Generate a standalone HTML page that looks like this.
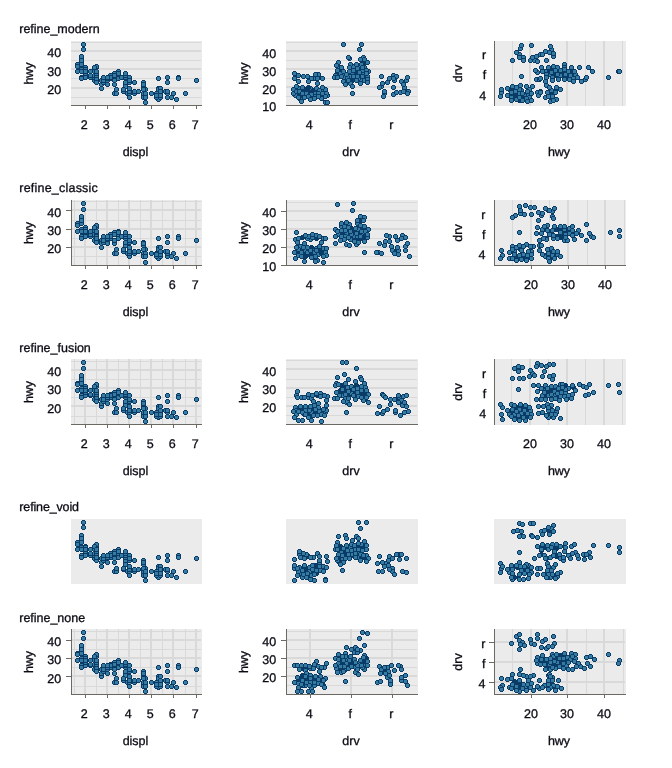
<!DOCTYPE html>
<html lang="en"><head><meta charset="utf-8"><title>refine modes</title>
<style>html,body{margin:0;padding:0;background:#fff}body{width:672px;height:768px;overflow:hidden}svg{display:block}text{stroke:#0b0b14;stroke-width:.3px}</style></head>
<body>
<svg width="672" height="768" viewBox="0 0 672 768" font-family='"Liberation Sans", Arial, sans-serif' font-size="12.5" fill="#0b0b14" shape-rendering="crispEdges" text-rendering="geometricPrecision" class="s">
<defs><g id="p"><path d="M-1-2h3v1h1v3h-1v1h-3v-1h-1v-3h1z" fill="#0a3a66"/><rect x="-1" y="-1" width="3" height="3" fill="#357ba2"/></g><path id="q" d="M-1-2h3v1h1v3h-1v1h-3v-1h-1v-3h1z" fill="#0a3a66"/></defs>
<text x="19.3" y="33" textLength="80.3" lengthAdjust="spacing">refine_modern</text>
<rect x="71" y="41" width="131" height="65" fill="#ebebeb"/>
<rect x="71" y="97" width="130" height="1" fill="#d9d9d9"/>
<rect x="71" y="78" width="130" height="1" fill="#d9d9d9"/>
<rect x="71" y="60" width="130" height="1" fill="#d9d9d9"/>
<rect x="71" y="42" width="130" height="1" fill="#d9d9d9"/>
<rect x="71" y="87" width="130" height="2" fill="#d9d9d9"/>
<rect x="71" y="68" width="130" height="2" fill="#d9d9d9"/>
<rect x="71" y="50" width="130" height="2" fill="#d9d9d9"/>
<g><use href="#p" x="85" y="67"/><use href="#p" x="85" y="69"/><use href="#p" x="110" y="75"/><use href="#p" x="81" y="77"/><use href="#p" x="81" y="78"/><use href="#p" x="103" y="78"/><use href="#p" x="110" y="78"/><use href="#p" x="134" y="82"/><use href="#p" x="158" y="97"/><use href="#p" x="158" y="88"/><use href="#p" x="173" y="93"/><use href="#p" x="167" y="77"/><use href="#p" x="167" y="82"/><use href="#p" x="178" y="77"/><use href="#p" x="178" y="78"/><use href="#p" x="196" y="80"/><use href="#p" x="158" y="89"/><use href="#p" x="158" y="99"/><use href="#p" x="167" y="97"/><use href="#p" x="185" y="93"/><use href="#p" x="118" y="71"/><use href="#p" x="94" y="80"/><use href="#p" x="107" y="80"/><use href="#p" x="114" y="84"/><use href="#p" x="114" y="80"/><use href="#p" x="125" y="84"/><use href="#p" x="125" y="86"/><use href="#p" x="125" y="82"/><use href="#p" x="129" y="82"/><use href="#p" x="123" y="91"/><use href="#p" x="156" y="93"/><use href="#p" x="127" y="93"/><use href="#p" x="145" y="95"/><use href="#p" x="156" y="97"/><use href="#p" x="156" y="95"/><use href="#p" x="167" y="93"/><use href="#p" x="171" y="97"/><use href="#p" x="134" y="93"/><use href="#p" x="143" y="95"/><use href="#p" x="143" y="93"/><use href="#p" x="160" y="97"/><use href="#p" x="125" y="78"/><use href="#p" x="129" y="77"/><use href="#p" x="129" y="80"/><use href="#p" x="143" y="86"/><use href="#p" x="143" y="82"/><use href="#p" x="143" y="84"/><use href="#p" x="160" y="88"/><use href="#p" x="77" y="64"/><use href="#p" x="77" y="71"/><use href="#p" x="77" y="66"/><use href="#p" x="81" y="62"/><use href="#p" x="81" y="58"/><use href="#p" x="94" y="77"/><use href="#p" x="94" y="69"/><use href="#p" x="114" y="73"/><use href="#p" x="85" y="75"/><use href="#p" x="101" y="80"/><use href="#p" x="107" y="84"/><use href="#p" x="123" y="89"/><use href="#p" x="145" y="102"/><use href="#p" x="145" y="89"/><use href="#p" x="176" y="99"/><use href="#p" x="129" y="97"/><use href="#p" x="134" y="91"/><use href="#p" x="138" y="91"/><use href="#p" x="143" y="97"/><use href="#p" x="160" y="93"/><use href="#p" x="160" y="95"/><use href="#p" x="160" y="91"/><use href="#p" x="129" y="93"/><use href="#p" x="129" y="89"/><use href="#p" x="143" y="89"/><use href="#p" x="151" y="93"/><use href="#p" x="94" y="71"/><use href="#p" x="94" y="75"/><use href="#p" x="96" y="67"/><use href="#p" x="96" y="66"/><use href="#p" x="118" y="75"/><use href="#p" x="118" y="77"/><use href="#p" x="107" y="78"/><use href="#p" x="118" y="78"/><use href="#p" x="114" y="93"/><use href="#p" x="165" y="91"/><use href="#p" x="110" y="77"/><use href="#p" x="125" y="77"/><use href="#p" x="125" y="75"/><use href="#p" x="125" y="73"/><use href="#p" x="158" y="78"/><use href="#p" x="96" y="80"/><use href="#p" x="96" y="82"/><use href="#p" x="90" y="77"/><use href="#p" x="96" y="77"/><use href="#p" x="96" y="78"/><use href="#p" x="96" y="75"/><use href="#p" x="145" y="93"/><use href="#p" x="118" y="73"/><use href="#p" x="90" y="75"/><use href="#p" x="90" y="71"/><use href="#p" x="94" y="67"/><use href="#p" x="107" y="77"/><use href="#p" x="114" y="75"/><use href="#p" x="81" y="69"/><use href="#p" x="81" y="64"/><use href="#p" x="81" y="56"/><use href="#p" x="81" y="60"/><use href="#p" x="145" y="97"/><use href="#p" x="167" y="91"/><use href="#p" x="101" y="88"/><use href="#p" x="101" y="84"/><use href="#p" x="116" y="93"/><use href="#p" x="116" y="89"/><use href="#p" x="129" y="91"/><use href="#p" x="129" y="88"/><use href="#p" x="103" y="82"/><use href="#p" x="103" y="80"/><use href="#p" x="83" y="44"/><use href="#p" x="83" y="49"/><use href="#p" x="85" y="77"/><use href="#p" x="96" y="73"/><use href="#p" x="96" y="71"/><use href="#p" x="81" y="71"/><use href="#p" x="85" y="73"/><use href="#p" x="85" y="71"/><use href="#p" x="103" y="77"/><use href="#p" x="121" y="77"/></g>
<rect x="71" y="105" width="131" height="1" fill="#6c6962"/>
<rect x="85" y="106" width="1" height="3" fill="#6c6962"/>
<rect x="107" y="106" width="1" height="3" fill="#6c6962"/>
<rect x="129" y="106" width="1" height="3" fill="#6c6962"/>
<rect x="151" y="106" width="1" height="3" fill="#6c6962"/>
<rect x="173" y="106" width="1" height="3" fill="#6c6962"/>
<rect x="196" y="106" width="1" height="3" fill="#6c6962"/>
<text x="84.3" y="129" text-anchor="middle">2</text>
<text x="106.3" y="129" text-anchor="middle">3</text>
<text x="128.3" y="129" text-anchor="middle">4</text>
<text x="150.3" y="129" text-anchor="middle">5</text>
<text x="172.3" y="129" text-anchor="middle">6</text>
<text x="195.3" y="129" text-anchor="middle">7</text>
<text x="61.2" y="94" text-anchor="end">20</text>
<text x="61.2" y="76" text-anchor="end">30</text>
<text x="61.2" y="57" text-anchor="end">40</text>
<text x="135.5" y="156" text-anchor="middle">displ</text>
<text transform="translate(32.5 73.5) rotate(-90)" text-anchor="middle">hwy</text>
<rect x="286" y="41" width="132" height="65" fill="#ebebeb"/>
<rect x="286" y="96" width="131" height="1" fill="#d9d9d9"/>
<rect x="286" y="78" width="131" height="1" fill="#d9d9d9"/>
<rect x="286" y="60" width="131" height="1" fill="#d9d9d9"/>
<rect x="286" y="42" width="131" height="1" fill="#d9d9d9"/>
<rect x="286" y="86" width="131" height="2" fill="#d9d9d9"/>
<rect x="286" y="68" width="131" height="2" fill="#d9d9d9"/>
<rect x="286" y="50" width="131" height="2" fill="#d9d9d9"/>
<g><use href="#q" x="305" y="89"/><use href="#p" x="310" y="88"/><use href="#q" x="313" y="90"/><use href="#p" x="316" y="88"/><use href="#q" x="308" y="87"/><use href="#p" x="353" y="66"/><use href="#q" x="356" y="72"/><use href="#p" x="362" y="73"/><use href="#q" x="340" y="70"/><use href="#p" x="343" y="74"/><use href="#q" x="352" y="80"/><use href="#p" x="344" y="77"/><use href="#q" x="337" y="73"/><use href="#p" x="358" y="69"/><use href="#p" x="299" y="88"/><use href="#p" x="293" y="89"/><use href="#p" x="295" y="95"/><use href="#p" x="304" y="97"/><use href="#p" x="311" y="94"/><use href="#p" x="322" y="90"/><use href="#p" x="325" y="89"/><use href="#p" x="327" y="95"/><use href="#p" x="321" y="98"/><use href="#p" x="300" y="99"/><use href="#p" x="358" y="66"/><use href="#p" x="357" y="68"/><use href="#p" x="352" y="73"/><use href="#p" x="350" y="76"/><use href="#p" x="362" y="76"/><use href="#p" x="361" y="80"/><use href="#p" x="340" y="73"/><use href="#p" x="364" y="80"/><use href="#p" x="338" y="67"/><use href="#p" x="335" y="75"/><use href="#p" x="358" y="78"/><use href="#p" x="347" y="77"/><use href="#p" x="364" y="67"/><use href="#p" x="368" y="71"/><use href="#p" x="318" y="74"/><use href="#p" x="314" y="78"/><use href="#p" x="293" y="93"/><use href="#p" x="325" y="102"/><use href="#p" x="349" y="58"/><use href="#p" x="363" y="57"/><use href="#p" x="360" y="59"/><use href="#p" x="338" y="62"/><use href="#p" x="350" y="64"/><use href="#p" x="356" y="64"/><use href="#p" x="362" y="70"/><use href="#p" x="366" y="70"/><use href="#p" x="353" y="76"/><use href="#p" x="367" y="76"/><use href="#p" x="367" y="79"/><use href="#p" x="334" y="77"/><use href="#p" x="350" y="83"/><use href="#p" x="393" y="75"/><use href="#p" x="396" y="76"/><use href="#p" x="394" y="80"/><use href="#p" x="381" y="86"/><use href="#p" x="384" y="93"/><use href="#p" x="408" y="91"/><use href="#p" x="401" y="81"/><use href="#p" x="294" y="73"/><use href="#p" x="298" y="75"/><use href="#p" x="294" y="78"/><use href="#p" x="298" y="81"/><use href="#p" x="303" y="76"/><use href="#p" x="307" y="76"/><use href="#p" x="311" y="78"/><use href="#p" x="308" y="81"/><use href="#p" x="315" y="74"/><use href="#p" x="317" y="78"/><use href="#p" x="322" y="78"/><use href="#p" x="296" y="86"/><use href="#p" x="302" y="87"/><use href="#p" x="317" y="83"/><use href="#p" x="322" y="87"/><use href="#p" x="296" y="91"/><use href="#p" x="299" y="91"/><use href="#p" x="319" y="90"/><use href="#p" x="302" y="93"/><use href="#p" x="306" y="93"/><use href="#p" x="315" y="93"/><use href="#p" x="318" y="93"/><use href="#p" x="322" y="93"/><use href="#p" x="326" y="93"/><use href="#p" x="298" y="97"/><use href="#p" x="308" y="96"/><use href="#p" x="315" y="96"/><use href="#p" x="318" y="96"/><use href="#p" x="325" y="96"/><use href="#p" x="310" y="99"/><use href="#p" x="314" y="98"/><use href="#p" x="301" y="101"/><use href="#p" x="327" y="102"/><use href="#p" x="343" y="44"/><use href="#p" x="361" y="44"/><use href="#p" x="359" y="49"/><use href="#p" x="348" y="57"/><use href="#p" x="364" y="59"/><use href="#p" x="367" y="62"/><use href="#p" x="336" y="65"/><use href="#p" x="341" y="67"/><use href="#p" x="349" y="67"/><use href="#p" x="361" y="64"/><use href="#p" x="362" y="67"/><use href="#p" x="337" y="70"/><use href="#p" x="343" y="71"/><use href="#p" x="349" y="71"/><use href="#p" x="353" y="70"/><use href="#p" x="359" y="72"/><use href="#p" x="366" y="73"/><use href="#p" x="346" y="74"/><use href="#p" x="337" y="77"/><use href="#p" x="341" y="76"/><use href="#p" x="357" y="76"/><use href="#p" x="343" y="81"/><use href="#p" x="348" y="80"/><use href="#p" x="356" y="80"/><use href="#p" x="367" y="82"/><use href="#p" x="360" y="83"/><use href="#p" x="345" y="84"/><use href="#p" x="352" y="86"/><use href="#p" x="352" y="93"/><use href="#p" x="381" y="76"/><use href="#p" x="389" y="78"/><use href="#p" x="393" y="78"/><use href="#p" x="387" y="82"/><use href="#p" x="382" y="83"/><use href="#p" x="379" y="87"/><use href="#p" x="393" y="87"/><use href="#p" x="384" y="91"/><use href="#p" x="383" y="96"/><use href="#p" x="393" y="94"/><use href="#p" x="396" y="92"/><use href="#p" x="400" y="92"/><use href="#p" x="403" y="91"/><use href="#p" x="407" y="93"/><use href="#p" x="404" y="87"/><use href="#p" x="403" y="84"/><use href="#p" x="406" y="80"/><use href="#p" x="407" y="77"/></g>
<path d="M362 61h1v1h-1zM363 62h2v1h-2zM364 63h1v1h-1zM364 64h2v1h-2zM320 76h1v1h-1zM406 89h1v1h-1zM302 90h1v1h-1zM308 90h1v1h-1zM308 91h3v1h-3zM309 92h1v1h-1zM298 94h2v1h-2zM300 95h1v1h-1zM301 96h1v1h-1zM323 100h1v1h-1z" fill="#0a3a66"/>
<rect x="286" y="105" width="132" height="1" fill="#6c6962"/>
<text x="309.3" y="129" text-anchor="middle">4</text>
<text x="350.3" y="129" text-anchor="middle">f</text>
<text x="391.3" y="129" text-anchor="middle">r</text>
<text x="276.2" y="111" text-anchor="end">10</text>
<text x="276.2" y="94" text-anchor="end">20</text>
<text x="276.2" y="76" text-anchor="end">30</text>
<text x="276.2" y="58" text-anchor="end">40</text>
<text x="351" y="156" text-anchor="middle">drv</text>
<text transform="translate(247.5 73.5) rotate(-90)" text-anchor="middle">hwy</text>
<rect x="494" y="41" width="132" height="65" fill="#ebebeb"/>
<rect x="512" y="41" width="1" height="65" fill="#d9d9d9"/>
<rect x="549" y="41" width="1" height="65" fill="#d9d9d9"/>
<rect x="585" y="41" width="1" height="65" fill="#d9d9d9"/>
<rect x="622" y="41" width="1" height="65" fill="#d9d9d9"/>
<rect x="529" y="41" width="2" height="65" fill="#d9d9d9"/>
<rect x="566" y="41" width="2" height="65" fill="#d9d9d9"/>
<rect x="603" y="41" width="2" height="65" fill="#d9d9d9"/>
<g><use href="#q" x="515" y="95"/><use href="#p" x="521" y="90"/><use href="#q" x="519" y="100"/><use href="#p" x="525" y="95"/><use href="#q" x="514" y="88"/><use href="#p" x="529" y="89"/><use href="#q" x="548" y="69"/><use href="#p" x="560" y="75"/><use href="#q" x="555" y="75"/><use href="#p" x="550" y="74"/><use href="#q" x="567" y="77"/><use href="#p" x="519" y="93"/><use href="#q" x="522" y="97"/><use href="#p" x="528" y="94"/><use href="#q" x="509" y="89"/><use href="#p" x="520" y="48"/><use href="#p" x="519" y="54"/><use href="#p" x="519" y="57"/><use href="#p" x="534" y="60"/><use href="#p" x="540" y="54"/><use href="#p" x="537" y="72"/><use href="#p" x="536" y="79"/><use href="#p" x="501" y="92"/><use href="#p" x="526" y="86"/><use href="#p" x="515" y="91"/><use href="#p" x="529" y="97"/><use href="#p" x="519" y="89"/><use href="#p" x="527" y="91"/><use href="#p" x="551" y="49"/><use href="#p" x="549" y="52"/><use href="#p" x="553" y="56"/><use href="#p" x="557" y="67"/><use href="#p" x="564" y="64"/><use href="#p" x="564" y="67"/><use href="#p" x="545" y="71"/><use href="#p" x="555" y="70"/><use href="#p" x="560" y="70"/><use href="#p" x="568" y="71"/><use href="#p" x="557" y="74"/><use href="#p" x="575" y="74"/><use href="#p" x="585" y="79"/><use href="#p" x="551" y="90"/><use href="#p" x="545" y="97"/><use href="#p" x="521" y="45"/><use href="#p" x="516" y="52"/><use href="#p" x="523" y="57"/><use href="#p" x="523" y="60"/><use href="#p" x="512" y="60"/><use href="#p" x="531" y="45"/><use href="#p" x="530" y="60"/><use href="#p" x="532" y="57"/><use href="#p" x="536" y="56"/><use href="#p" x="537" y="61"/><use href="#p" x="521" y="76"/><use href="#p" x="535" y="70"/><use href="#p" x="539" y="79"/><use href="#p" x="501" y="89"/><use href="#p" x="500" y="96"/><use href="#p" x="507" y="88"/><use href="#p" x="507" y="95"/><use href="#p" x="512" y="86"/><use href="#p" x="516" y="87"/><use href="#p" x="520" y="85"/><use href="#p" x="532" y="86"/><use href="#p" x="511" y="92"/><use href="#p" x="511" y="97"/><use href="#p" x="511" y="100"/><use href="#p" x="516" y="99"/><use href="#p" x="519" y="97"/><use href="#p" x="522" y="93"/><use href="#p" x="522" y="100"/><use href="#p" x="526" y="98"/><use href="#p" x="527" y="101"/><use href="#p" x="531" y="100"/><use href="#p" x="531" y="93"/><use href="#p" x="537" y="92"/><use href="#p" x="540" y="91"/><use href="#p" x="538" y="95"/><use href="#p" x="550" y="46"/><use href="#p" x="545" y="51"/><use href="#p" x="542" y="54"/><use href="#p" x="553" y="53"/><use href="#p" x="546" y="60"/><use href="#p" x="541" y="67"/><use href="#p" x="548" y="67"/><use href="#p" x="553" y="66"/><use href="#p" x="564" y="69"/><use href="#p" x="571" y="67"/><use href="#p" x="579" y="67"/><use href="#p" x="588" y="67"/><use href="#p" x="592" y="71"/><use href="#p" x="542" y="71"/><use href="#p" x="551" y="72"/><use href="#p" x="574" y="71"/><use href="#p" x="546" y="74"/><use href="#p" x="565" y="74"/><use href="#p" x="570" y="75"/><use href="#p" x="540" y="78"/><use href="#p" x="546" y="77"/><use href="#p" x="552" y="77"/><use href="#p" x="558" y="79"/><use href="#p" x="564" y="79"/><use href="#p" x="569" y="79"/><use href="#p" x="573" y="78"/><use href="#p" x="577" y="77"/><use href="#p" x="586" y="77"/><use href="#p" x="545" y="81"/><use href="#p" x="552" y="80"/><use href="#p" x="573" y="81"/><use href="#p" x="581" y="81"/><use href="#p" x="546" y="85"/><use href="#p" x="549" y="87"/><use href="#p" x="556" y="87"/><use href="#p" x="560" y="89"/><use href="#p" x="540" y="92"/><use href="#p" x="547" y="92"/><use href="#p" x="555" y="92"/><use href="#p" x="548" y="96"/><use href="#p" x="552" y="96"/><use href="#p" x="556" y="99"/><use href="#p" x="550" y="101"/><use href="#p" x="553" y="100"/><use href="#p" x="608" y="77"/><use href="#p" x="618" y="71"/><use href="#p" x="619" y="71"/></g>
<path d="M518 50h1v1h-1zM551 68h1v1h-1zM551 69h2v1h-2zM590 69h1v1h-1zM571 70h1v1h-1zM571 71h1v1h-1zM548 72h1v1h-1zM562 72h2v1h-2zM571 72h1v1h-1zM562 73h1v1h-1zM572 73h1v1h-1zM563 76h1v1h-1zM562 77h1v1h-1zM579 79h1v1h-1zM554 89h1v1h-1zM557 90h1v1h-1zM550 93h3v1h-3zM550 94h1v1h-1zM550 98h1v1h-1z" fill="#0a3a66"/>
<rect x="494" y="41" width="1" height="65" fill="#6c6962"/>
<text x="530" y="129" text-anchor="middle">20</text>
<text x="567" y="129" text-anchor="middle">30</text>
<text x="604" y="129" text-anchor="middle">40</text>
<text x="486.2" y="100" text-anchor="end">4</text>
<text x="486.2" y="79" text-anchor="end">f</text>
<text x="486.2" y="59" text-anchor="end">r</text>
<text x="559" y="156" text-anchor="middle">hwy</text>
<text transform="translate(462 73.5) rotate(-90)" text-anchor="middle">drv</text>
<text x="19.3" y="192" textLength="78.5" lengthAdjust="spacing">refine_classic</text>
<rect x="71" y="200" width="131" height="66" fill="#ebebeb"/>
<rect x="74" y="200" width="1" height="66" fill="#d9d9d9"/>
<rect x="96" y="200" width="1" height="66" fill="#d9d9d9"/>
<rect x="118" y="200" width="1" height="66" fill="#d9d9d9"/>
<rect x="140" y="200" width="1" height="66" fill="#d9d9d9"/>
<rect x="162" y="200" width="1" height="66" fill="#d9d9d9"/>
<rect x="185" y="200" width="1" height="66" fill="#d9d9d9"/>
<rect x="84" y="200" width="2" height="66" fill="#d9d9d9"/>
<rect x="106" y="200" width="2" height="66" fill="#d9d9d9"/>
<rect x="128" y="200" width="2" height="66" fill="#d9d9d9"/>
<rect x="150" y="200" width="2" height="66" fill="#d9d9d9"/>
<rect x="172" y="200" width="2" height="66" fill="#d9d9d9"/>
<rect x="195" y="200" width="2" height="66" fill="#d9d9d9"/>
<rect x="71" y="256" width="130" height="1" fill="#d9d9d9"/>
<rect x="71" y="238" width="130" height="1" fill="#d9d9d9"/>
<rect x="71" y="220" width="130" height="1" fill="#d9d9d9"/>
<rect x="71" y="201" width="130" height="1" fill="#d9d9d9"/>
<rect x="71" y="246" width="130" height="2" fill="#d9d9d9"/>
<rect x="71" y="228" width="130" height="2" fill="#d9d9d9"/>
<rect x="71" y="209" width="130" height="2" fill="#d9d9d9"/>
<g><use href="#p" x="85" y="227"/><use href="#p" x="85" y="229"/><use href="#p" x="110" y="234"/><use href="#p" x="81" y="236"/><use href="#p" x="81" y="238"/><use href="#p" x="103" y="238"/><use href="#p" x="110" y="238"/><use href="#p" x="134" y="242"/><use href="#p" x="158" y="256"/><use href="#p" x="158" y="247"/><use href="#p" x="173" y="253"/><use href="#p" x="167" y="236"/><use href="#p" x="167" y="242"/><use href="#p" x="178" y="236"/><use href="#p" x="178" y="238"/><use href="#p" x="196" y="240"/><use href="#p" x="158" y="249"/><use href="#p" x="158" y="258"/><use href="#p" x="167" y="256"/><use href="#p" x="185" y="253"/><use href="#p" x="118" y="231"/><use href="#p" x="94" y="240"/><use href="#p" x="107" y="240"/><use href="#p" x="114" y="243"/><use href="#p" x="114" y="240"/><use href="#p" x="125" y="243"/><use href="#p" x="125" y="245"/><use href="#p" x="125" y="242"/><use href="#p" x="129" y="242"/><use href="#p" x="123" y="251"/><use href="#p" x="156" y="253"/><use href="#p" x="127" y="253"/><use href="#p" x="145" y="254"/><use href="#p" x="156" y="256"/><use href="#p" x="156" y="254"/><use href="#p" x="167" y="253"/><use href="#p" x="171" y="256"/><use href="#p" x="134" y="253"/><use href="#p" x="143" y="254"/><use href="#p" x="143" y="253"/><use href="#p" x="160" y="256"/><use href="#p" x="125" y="238"/><use href="#p" x="129" y="236"/><use href="#p" x="129" y="240"/><use href="#p" x="143" y="245"/><use href="#p" x="143" y="242"/><use href="#p" x="143" y="243"/><use href="#p" x="160" y="247"/><use href="#p" x="77" y="223"/><use href="#p" x="77" y="231"/><use href="#p" x="77" y="225"/><use href="#p" x="81" y="221"/><use href="#p" x="81" y="218"/><use href="#p" x="94" y="236"/><use href="#p" x="94" y="229"/><use href="#p" x="114" y="232"/><use href="#p" x="85" y="234"/><use href="#p" x="101" y="240"/><use href="#p" x="107" y="243"/><use href="#p" x="123" y="249"/><use href="#p" x="145" y="262"/><use href="#p" x="145" y="249"/><use href="#p" x="176" y="258"/><use href="#p" x="129" y="256"/><use href="#p" x="134" y="251"/><use href="#p" x="138" y="251"/><use href="#p" x="143" y="256"/><use href="#p" x="160" y="253"/><use href="#p" x="160" y="254"/><use href="#p" x="160" y="251"/><use href="#p" x="129" y="253"/><use href="#p" x="129" y="249"/><use href="#p" x="143" y="249"/><use href="#p" x="151" y="253"/><use href="#p" x="94" y="231"/><use href="#p" x="94" y="234"/><use href="#p" x="96" y="227"/><use href="#p" x="96" y="225"/><use href="#p" x="118" y="234"/><use href="#p" x="118" y="236"/><use href="#p" x="107" y="238"/><use href="#p" x="118" y="238"/><use href="#p" x="114" y="253"/><use href="#p" x="165" y="251"/><use href="#p" x="110" y="236"/><use href="#p" x="125" y="236"/><use href="#p" x="125" y="234"/><use href="#p" x="125" y="232"/><use href="#p" x="158" y="238"/><use href="#p" x="96" y="240"/><use href="#p" x="96" y="242"/><use href="#p" x="90" y="236"/><use href="#p" x="96" y="236"/><use href="#p" x="96" y="238"/><use href="#p" x="96" y="234"/><use href="#p" x="145" y="253"/><use href="#p" x="118" y="232"/><use href="#p" x="90" y="234"/><use href="#p" x="90" y="231"/><use href="#p" x="94" y="227"/><use href="#p" x="107" y="236"/><use href="#p" x="114" y="234"/><use href="#p" x="81" y="229"/><use href="#p" x="81" y="223"/><use href="#p" x="81" y="216"/><use href="#p" x="81" y="220"/><use href="#p" x="145" y="256"/><use href="#p" x="167" y="251"/><use href="#p" x="101" y="247"/><use href="#p" x="101" y="243"/><use href="#p" x="116" y="253"/><use href="#p" x="116" y="249"/><use href="#p" x="129" y="251"/><use href="#p" x="129" y="247"/><use href="#p" x="103" y="242"/><use href="#p" x="103" y="240"/><use href="#p" x="83" y="203"/><use href="#p" x="83" y="209"/><use href="#p" x="85" y="236"/><use href="#p" x="96" y="232"/><use href="#p" x="96" y="231"/><use href="#p" x="81" y="231"/><use href="#p" x="85" y="232"/><use href="#p" x="85" y="231"/><use href="#p" x="103" y="236"/><use href="#p" x="121" y="236"/></g>
<rect x="71" y="265" width="131" height="1" fill="#6c6962"/>
<rect x="71" y="200" width="1" height="66" fill="#6c6962"/>
<rect x="85" y="266" width="1" height="3" fill="#6c6962"/>
<rect x="107" y="266" width="1" height="3" fill="#6c6962"/>
<rect x="129" y="266" width="1" height="3" fill="#6c6962"/>
<rect x="151" y="266" width="1" height="3" fill="#6c6962"/>
<rect x="173" y="266" width="1" height="3" fill="#6c6962"/>
<rect x="196" y="266" width="1" height="3" fill="#6c6962"/>
<rect x="66" y="247" width="5" height="1" fill="#6c6962"/>
<rect x="66" y="229" width="5" height="1" fill="#6c6962"/>
<rect x="66" y="210" width="5" height="1" fill="#6c6962"/>
<text x="84.3" y="289" text-anchor="middle">2</text>
<text x="106.3" y="289" text-anchor="middle">3</text>
<text x="128.3" y="289" text-anchor="middle">4</text>
<text x="150.3" y="289" text-anchor="middle">5</text>
<text x="172.3" y="289" text-anchor="middle">6</text>
<text x="195.3" y="289" text-anchor="middle">7</text>
<text x="61.2" y="253" text-anchor="end">20</text>
<text x="61.2" y="235" text-anchor="end">30</text>
<text x="61.2" y="217" text-anchor="end">40</text>
<text x="135.5" y="316" text-anchor="middle">displ</text>
<text transform="translate(32.5 233) rotate(-90)" text-anchor="middle">hwy</text>
<rect x="286" y="200" width="132" height="66" fill="#ebebeb"/>
<rect x="286" y="256" width="131" height="1" fill="#d9d9d9"/>
<rect x="286" y="238" width="131" height="1" fill="#d9d9d9"/>
<rect x="286" y="220" width="131" height="1" fill="#d9d9d9"/>
<rect x="286" y="202" width="131" height="1" fill="#d9d9d9"/>
<rect x="286" y="246" width="131" height="2" fill="#d9d9d9"/>
<rect x="286" y="228" width="131" height="2" fill="#d9d9d9"/>
<rect x="286" y="210" width="131" height="2" fill="#d9d9d9"/>
<g><use href="#q" x="302" y="237"/><use href="#p" x="310" y="239"/><use href="#q" x="316" y="238"/><use href="#p" x="300" y="246"/><use href="#q" x="311" y="247"/><use href="#p" x="305" y="250"/><use href="#q" x="320" y="251"/><use href="#p" x="298" y="249"/><use href="#q" x="308" y="254"/><use href="#p" x="318" y="254"/><use href="#q" x="305" y="256"/><use href="#p" x="313" y="250"/><use href="#q" x="321" y="253"/><use href="#p" x="346" y="233"/><use href="#q" x="355" y="231"/><use href="#p" x="363" y="234"/><use href="#q" x="359" y="239"/><use href="#p" x="338" y="234"/><use href="#q" x="351" y="228"/><use href="#p" x="358" y="229"/><use href="#q" x="365" y="235"/><use href="#p" x="350" y="239"/><use href="#q" x="362" y="238"/><use href="#p" x="316" y="235"/><use href="#p" x="295" y="239"/><use href="#p" x="307" y="238"/><use href="#p" x="323" y="238"/><use href="#p" x="303" y="247"/><use href="#p" x="316" y="248"/><use href="#p" x="323" y="248"/><use href="#p" x="307" y="252"/><use href="#p" x="314" y="252"/><use href="#p" x="325" y="252"/><use href="#p" x="326" y="255"/><use href="#p" x="317" y="260"/><use href="#p" x="298" y="255"/><use href="#p" x="319" y="246"/><use href="#p" x="312" y="237"/><use href="#p" x="308" y="236"/><use href="#p" x="364" y="217"/><use href="#p" x="349" y="224"/><use href="#p" x="357" y="223"/><use href="#p" x="341" y="226"/><use href="#p" x="348" y="227"/><use href="#p" x="335" y="229"/><use href="#p" x="345" y="230"/><use href="#p" x="368" y="229"/><use href="#p" x="345" y="236"/><use href="#p" x="354" y="236"/><use href="#p" x="357" y="236"/><use href="#p" x="344" y="239"/><use href="#p" x="367" y="237"/><use href="#p" x="356" y="233"/><use href="#p" x="351" y="234"/><use href="#p" x="346" y="244"/><use href="#p" x="356" y="244"/><use href="#p" x="358" y="242"/><use href="#p" x="389" y="236"/><use href="#p" x="402" y="235"/><use href="#p" x="401" y="238"/><use href="#p" x="385" y="241"/><use href="#p" x="405" y="246"/><use href="#p" x="392" y="250"/><use href="#p" x="398" y="250"/><use href="#p" x="378" y="252"/><use href="#p" x="394" y="253"/><use href="#p" x="296" y="232"/><use href="#p" x="305" y="235"/><use href="#p" x="312" y="234"/><use href="#p" x="319" y="236"/><use href="#p" x="298" y="238"/><use href="#p" x="325" y="238"/><use href="#p" x="297" y="242"/><use href="#p" x="304" y="243"/><use href="#p" x="321" y="242"/><use href="#p" x="296" y="247"/><use href="#p" x="307" y="247"/><use href="#p" x="316" y="250"/><use href="#p" x="326" y="248"/><use href="#p" x="310" y="250"/><use href="#p" x="294" y="252"/><use href="#p" x="301" y="252"/><use href="#p" x="301" y="256"/><use href="#p" x="315" y="256"/><use href="#p" x="311" y="257"/><use href="#p" x="323" y="256"/><use href="#p" x="295" y="258"/><use href="#p" x="304" y="261"/><use href="#p" x="315" y="261"/><use href="#p" x="323" y="262"/><use href="#p" x="337" y="204"/><use href="#p" x="353" y="203"/><use href="#p" x="352" y="210"/><use href="#p" x="360" y="216"/><use href="#p" x="357" y="220"/><use href="#p" x="363" y="220"/><use href="#p" x="341" y="223"/><use href="#p" x="346" y="222"/><use href="#p" x="360" y="225"/><use href="#p" x="364" y="226"/><use href="#p" x="344" y="226"/><use href="#p" x="355" y="228"/><use href="#p" x="337" y="231"/><use href="#p" x="341" y="230"/><use href="#p" x="350" y="231"/><use href="#p" x="361" y="231"/><use href="#p" x="365" y="231"/><use href="#p" x="367" y="234"/><use href="#p" x="335" y="236"/><use href="#p" x="341" y="236"/><use href="#p" x="348" y="237"/><use href="#p" x="360" y="236"/><use href="#p" x="340" y="240"/><use href="#p" x="354" y="241"/><use href="#p" x="364" y="241"/><use href="#p" x="335" y="243"/><use href="#p" x="349" y="245"/><use href="#p" x="364" y="252"/><use href="#p" x="386" y="235"/><use href="#p" x="395" y="236"/><use href="#p" x="405" y="237"/><use href="#p" x="397" y="240"/><use href="#p" x="389" y="241"/><use href="#p" x="379" y="243"/><use href="#p" x="384" y="245"/><use href="#p" x="407" y="243"/><use href="#p" x="391" y="246"/><use href="#p" x="397" y="247"/><use href="#p" x="405" y="250"/><use href="#p" x="376" y="252"/><use href="#p" x="381" y="253"/><use href="#p" x="398" y="254"/><use href="#p" x="409" y="256"/></g>
<path d="M360 219h1v1h-1zM360 220h1v1h-1zM360 221h1v1h-1zM360 222h2v1h-2zM357 226h1v1h-1zM361 228h2v1h-2zM363 229h1v1h-1zM343 232h1v1h-1zM341 233h3v1h-3zM359 233h1v1h-1zM343 234h1v1h-1zM356 239h1v1h-1zM301 249h1v1h-1zM395 249h1v1h-1zM395 250h1v1h-1zM297 252h2v1h-2zM304 253h1v1h-1zM311 253h1v1h-1zM303 254h1v1h-1zM311 254h2v1h-2zM303 258h1v1h-1zM313 259h1v1h-1z" fill="#0a3a66"/>
<rect x="286" y="265" width="132" height="1" fill="#6c6962"/>
<rect x="286" y="200" width="1" height="66" fill="#6c6962"/>
<rect x="281" y="265" width="5" height="1" fill="#6c6962"/>
<rect x="281" y="247" width="5" height="1" fill="#6c6962"/>
<rect x="281" y="229" width="5" height="1" fill="#6c6962"/>
<rect x="281" y="211" width="5" height="1" fill="#6c6962"/>
<text x="309.3" y="289" text-anchor="middle">4</text>
<text x="350.3" y="289" text-anchor="middle">f</text>
<text x="391.3" y="289" text-anchor="middle">r</text>
<text x="276.2" y="271" text-anchor="end">10</text>
<text x="276.2" y="253" text-anchor="end">20</text>
<text x="276.2" y="235" text-anchor="end">30</text>
<text x="276.2" y="217" text-anchor="end">40</text>
<text x="351" y="316" text-anchor="middle">drv</text>
<text transform="translate(247.5 233) rotate(-90)" text-anchor="middle">hwy</text>
<rect x="494" y="200" width="132" height="66" fill="#ebebeb"/>
<rect x="512" y="200" width="1" height="66" fill="#d9d9d9"/>
<rect x="549" y="200" width="1" height="66" fill="#d9d9d9"/>
<rect x="587" y="200" width="1" height="66" fill="#d9d9d9"/>
<rect x="624" y="200" width="1" height="66" fill="#d9d9d9"/>
<rect x="530" y="200" width="2" height="66" fill="#d9d9d9"/>
<rect x="567" y="200" width="2" height="66" fill="#d9d9d9"/>
<rect x="604" y="200" width="2" height="66" fill="#d9d9d9"/>
<g><use href="#q" x="523" y="257"/><use href="#p" x="527" y="255"/><use href="#q" x="519" y="248"/><use href="#p" x="514" y="251"/><use href="#q" x="556" y="229"/><use href="#p" x="550" y="234"/><use href="#q" x="556" y="236"/><use href="#p" x="565" y="234"/><use href="#q" x="560" y="237"/><use href="#p" x="520" y="213"/><use href="#p" x="530" y="207"/><use href="#p" x="541" y="215"/><use href="#p" x="548" y="210"/><use href="#p" x="544" y="229"/><use href="#p" x="546" y="238"/><use href="#p" x="549" y="234"/><use href="#p" x="502" y="255"/><use href="#p" x="512" y="246"/><use href="#p" x="514" y="254"/><use href="#p" x="526" y="244"/><use href="#p" x="533" y="246"/><use href="#p" x="531" y="251"/><use href="#p" x="523" y="254"/><use href="#p" x="521" y="259"/><use href="#p" x="516" y="247"/><use href="#p" x="545" y="255"/><use href="#p" x="552" y="211"/><use href="#p" x="552" y="216"/><use href="#p" x="560" y="226"/><use href="#p" x="542" y="229"/><use href="#p" x="564" y="229"/><use href="#p" x="569" y="228"/><use href="#p" x="572" y="230"/><use href="#p" x="569" y="233"/><use href="#p" x="546" y="239"/><use href="#p" x="553" y="238"/><use href="#p" x="557" y="238"/><use href="#p" x="564" y="240"/><use href="#p" x="567" y="240"/><use href="#p" x="548" y="249"/><use href="#p" x="557" y="254"/><use href="#p" x="545" y="256"/><use href="#p" x="591" y="236"/><use href="#p" x="519" y="206"/><use href="#p" x="525" y="205"/><use href="#p" x="520" y="210"/><use href="#p" x="524" y="214"/><use href="#p" x="515" y="215"/><use href="#p" x="512" y="217"/><use href="#p" x="534" y="207"/><use href="#p" x="531" y="214"/><use href="#p" x="538" y="212"/><use href="#p" x="538" y="220"/><use href="#p" x="519" y="232"/><use href="#p" x="537" y="227"/><use href="#p" x="536" y="233"/><use href="#p" x="547" y="225"/><use href="#p" x="539" y="240"/><use href="#p" x="501" y="250"/><use href="#p" x="500" y="258"/><use href="#p" x="512" y="249"/><use href="#p" x="509" y="252"/><use href="#p" x="509" y="258"/><use href="#p" x="512" y="258"/><use href="#p" x="516" y="260"/><use href="#p" x="519" y="245"/><use href="#p" x="523" y="246"/><use href="#p" x="530" y="246"/><use href="#p" x="521" y="250"/><use href="#p" x="528" y="251"/><use href="#p" x="519" y="255"/><use href="#p" x="531" y="254"/><use href="#p" x="526" y="260"/><use href="#p" x="531" y="258"/><use href="#p" x="539" y="245"/><use href="#p" x="539" y="250"/><use href="#p" x="547" y="249"/><use href="#p" x="548" y="254"/><use href="#p" x="548" y="257"/><use href="#p" x="545" y="208"/><use href="#p" x="549" y="210"/><use href="#p" x="554" y="208"/><use href="#p" x="542" y="213"/><use href="#p" x="553" y="218"/><use href="#p" x="544" y="226"/><use href="#p" x="554" y="226"/><use href="#p" x="564" y="226"/><use href="#p" x="572" y="226"/><use href="#p" x="547" y="230"/><use href="#p" x="552" y="230"/><use href="#p" x="578" y="230"/><use href="#p" x="541" y="233"/><use href="#p" x="560" y="232"/><use href="#p" x="576" y="233"/><use href="#p" x="553" y="235"/><use href="#p" x="572" y="235"/><use href="#p" x="581" y="235"/><use href="#p" x="543" y="238"/><use href="#p" x="565" y="237"/><use href="#p" x="574" y="239"/><use href="#p" x="541" y="245"/><use href="#p" x="551" y="248"/><use href="#p" x="557" y="251"/><use href="#p" x="553" y="251"/><use href="#p" x="542" y="254"/><use href="#p" x="548" y="253"/><use href="#p" x="552" y="255"/><use href="#p" x="560" y="256"/><use href="#p" x="548" y="258"/><use href="#p" x="554" y="258"/><use href="#p" x="549" y="261"/><use href="#p" x="586" y="224"/><use href="#p" x="589" y="233"/><use href="#p" x="593" y="237"/><use href="#p" x="586" y="240"/><use href="#p" x="610" y="232"/><use href="#p" x="619" y="230"/><use href="#p" x="619" y="236"/></g>
<path d="M559 229h3v1h-3zM567 230h1v1h-1zM566 231h2v1h-2zM563 232h1v1h-1zM579 233h1v1h-1zM558 234h1v1h-1zM562 234h1v1h-1zM562 235h1v1h-1zM550 251h1v1h-1zM516 256h1v1h-1zM515 257h3v1h-3zM518 258h1v1h-1zM528 258h1v1h-1zM551 258h1v1h-1zM551 259h1v1h-1z" fill="#0a3a66"/>
<rect x="494" y="265" width="132" height="1" fill="#6c6962"/>
<rect x="494" y="200" width="1" height="66" fill="#6c6962"/>
<rect x="531" y="266" width="1" height="3" fill="#6c6962"/>
<rect x="568" y="266" width="1" height="3" fill="#6c6962"/>
<rect x="605" y="266" width="1" height="3" fill="#6c6962"/>
<text x="531" y="289" text-anchor="middle">20</text>
<text x="568" y="289" text-anchor="middle">30</text>
<text x="605" y="289" text-anchor="middle">40</text>
<text x="485.4" y="259" text-anchor="end">4</text>
<text x="485.4" y="239" text-anchor="end">f</text>
<text x="485.4" y="219" text-anchor="end">r</text>
<text x="559" y="316" text-anchor="middle">hwy</text>
<text transform="translate(462 233) rotate(-90)" text-anchor="middle">drv</text>
<text x="19.3" y="352" textLength="71.5" lengthAdjust="spacing">refine_fusion</text>
<rect x="71" y="359" width="131" height="66" fill="#ebebeb"/>
<rect x="74" y="359" width="1" height="66" fill="#d9d9d9"/>
<rect x="96" y="359" width="1" height="66" fill="#d9d9d9"/>
<rect x="118" y="359" width="1" height="66" fill="#d9d9d9"/>
<rect x="140" y="359" width="1" height="66" fill="#d9d9d9"/>
<rect x="162" y="359" width="1" height="66" fill="#d9d9d9"/>
<rect x="185" y="359" width="1" height="66" fill="#d9d9d9"/>
<rect x="84" y="359" width="2" height="66" fill="#d9d9d9"/>
<rect x="106" y="359" width="2" height="66" fill="#d9d9d9"/>
<rect x="128" y="359" width="2" height="66" fill="#d9d9d9"/>
<rect x="150" y="359" width="2" height="66" fill="#d9d9d9"/>
<rect x="172" y="359" width="2" height="66" fill="#d9d9d9"/>
<rect x="195" y="359" width="2" height="66" fill="#d9d9d9"/>
<rect x="71" y="416" width="130" height="1" fill="#d9d9d9"/>
<rect x="71" y="397" width="130" height="1" fill="#d9d9d9"/>
<rect x="71" y="379" width="130" height="1" fill="#d9d9d9"/>
<rect x="71" y="361" width="130" height="1" fill="#d9d9d9"/>
<rect x="71" y="405" width="130" height="2" fill="#d9d9d9"/>
<rect x="71" y="387" width="130" height="2" fill="#d9d9d9"/>
<rect x="71" y="369" width="130" height="2" fill="#d9d9d9"/>
<g><use href="#p" x="85" y="386"/><use href="#p" x="85" y="388"/><use href="#p" x="110" y="394"/><use href="#p" x="81" y="395"/><use href="#p" x="81" y="397"/><use href="#p" x="103" y="397"/><use href="#p" x="110" y="397"/><use href="#p" x="134" y="401"/><use href="#p" x="158" y="416"/><use href="#p" x="158" y="406"/><use href="#p" x="173" y="412"/><use href="#p" x="167" y="395"/><use href="#p" x="167" y="401"/><use href="#p" x="178" y="395"/><use href="#p" x="178" y="397"/><use href="#p" x="196" y="399"/><use href="#p" x="158" y="408"/><use href="#p" x="158" y="417"/><use href="#p" x="167" y="416"/><use href="#p" x="185" y="412"/><use href="#p" x="118" y="390"/><use href="#p" x="94" y="399"/><use href="#p" x="107" y="399"/><use href="#p" x="114" y="403"/><use href="#p" x="114" y="399"/><use href="#p" x="125" y="403"/><use href="#p" x="125" y="405"/><use href="#p" x="125" y="401"/><use href="#p" x="129" y="401"/><use href="#p" x="123" y="410"/><use href="#p" x="156" y="412"/><use href="#p" x="127" y="412"/><use href="#p" x="145" y="414"/><use href="#p" x="156" y="416"/><use href="#p" x="156" y="414"/><use href="#p" x="167" y="412"/><use href="#p" x="171" y="416"/><use href="#p" x="134" y="412"/><use href="#p" x="143" y="414"/><use href="#p" x="143" y="412"/><use href="#p" x="160" y="416"/><use href="#p" x="125" y="397"/><use href="#p" x="129" y="395"/><use href="#p" x="129" y="399"/><use href="#p" x="143" y="405"/><use href="#p" x="143" y="401"/><use href="#p" x="143" y="403"/><use href="#p" x="160" y="406"/><use href="#p" x="77" y="383"/><use href="#p" x="77" y="390"/><use href="#p" x="77" y="384"/><use href="#p" x="81" y="381"/><use href="#p" x="81" y="377"/><use href="#p" x="94" y="395"/><use href="#p" x="94" y="388"/><use href="#p" x="114" y="392"/><use href="#p" x="85" y="394"/><use href="#p" x="101" y="399"/><use href="#p" x="107" y="403"/><use href="#p" x="123" y="408"/><use href="#p" x="145" y="421"/><use href="#p" x="145" y="408"/><use href="#p" x="176" y="417"/><use href="#p" x="129" y="416"/><use href="#p" x="134" y="410"/><use href="#p" x="138" y="410"/><use href="#p" x="143" y="416"/><use href="#p" x="160" y="412"/><use href="#p" x="160" y="414"/><use href="#p" x="160" y="410"/><use href="#p" x="129" y="412"/><use href="#p" x="129" y="408"/><use href="#p" x="143" y="408"/><use href="#p" x="151" y="412"/><use href="#p" x="94" y="390"/><use href="#p" x="94" y="394"/><use href="#p" x="96" y="386"/><use href="#p" x="96" y="384"/><use href="#p" x="118" y="394"/><use href="#p" x="118" y="395"/><use href="#p" x="107" y="397"/><use href="#p" x="118" y="397"/><use href="#p" x="114" y="412"/><use href="#p" x="165" y="410"/><use href="#p" x="110" y="395"/><use href="#p" x="125" y="395"/><use href="#p" x="125" y="394"/><use href="#p" x="125" y="392"/><use href="#p" x="158" y="397"/><use href="#p" x="96" y="399"/><use href="#p" x="96" y="401"/><use href="#p" x="90" y="395"/><use href="#p" x="96" y="395"/><use href="#p" x="96" y="397"/><use href="#p" x="96" y="394"/><use href="#p" x="145" y="412"/><use href="#p" x="118" y="392"/><use href="#p" x="90" y="394"/><use href="#p" x="90" y="390"/><use href="#p" x="94" y="386"/><use href="#p" x="107" y="395"/><use href="#p" x="114" y="394"/><use href="#p" x="81" y="388"/><use href="#p" x="81" y="383"/><use href="#p" x="81" y="375"/><use href="#p" x="81" y="379"/><use href="#p" x="145" y="416"/><use href="#p" x="167" y="410"/><use href="#p" x="101" y="406"/><use href="#p" x="101" y="403"/><use href="#p" x="116" y="412"/><use href="#p" x="116" y="408"/><use href="#p" x="129" y="410"/><use href="#p" x="129" y="406"/><use href="#p" x="103" y="401"/><use href="#p" x="103" y="399"/><use href="#p" x="83" y="362"/><use href="#p" x="83" y="368"/><use href="#p" x="85" y="395"/><use href="#p" x="96" y="392"/><use href="#p" x="96" y="390"/><use href="#p" x="81" y="390"/><use href="#p" x="85" y="392"/><use href="#p" x="85" y="390"/><use href="#p" x="103" y="395"/><use href="#p" x="121" y="395"/></g>
<rect x="71" y="424" width="131" height="1" fill="#6c6962"/>
<rect x="85" y="425" width="1" height="3" fill="#6c6962"/>
<rect x="107" y="425" width="1" height="3" fill="#6c6962"/>
<rect x="129" y="425" width="1" height="3" fill="#6c6962"/>
<rect x="151" y="425" width="1" height="3" fill="#6c6962"/>
<rect x="173" y="425" width="1" height="3" fill="#6c6962"/>
<rect x="196" y="425" width="1" height="3" fill="#6c6962"/>
<text x="84.3" y="448" text-anchor="middle">2</text>
<text x="106.3" y="448" text-anchor="middle">3</text>
<text x="128.3" y="448" text-anchor="middle">4</text>
<text x="150.3" y="448" text-anchor="middle">5</text>
<text x="172.3" y="448" text-anchor="middle">6</text>
<text x="195.3" y="448" text-anchor="middle">7</text>
<text x="61.2" y="413" text-anchor="end">20</text>
<text x="61.2" y="394" text-anchor="end">30</text>
<text x="61.2" y="376" text-anchor="end">40</text>
<text x="135.5" y="475" text-anchor="middle">displ</text>
<text transform="translate(32.5 392) rotate(-90)" text-anchor="middle">hwy</text>
<rect x="286" y="359" width="132" height="66" fill="#ebebeb"/>
<rect x="286" y="415" width="131" height="1" fill="#d9d9d9"/>
<rect x="286" y="397" width="131" height="1" fill="#d9d9d9"/>
<rect x="286" y="379" width="131" height="1" fill="#d9d9d9"/>
<rect x="286" y="360" width="131" height="1" fill="#d9d9d9"/>
<rect x="286" y="405" width="131" height="2" fill="#d9d9d9"/>
<rect x="286" y="387" width="131" height="2" fill="#d9d9d9"/>
<rect x="286" y="368" width="131" height="2" fill="#d9d9d9"/>
<g><use href="#q" x="301" y="409"/><use href="#p" x="311" y="412"/><use href="#q" x="316" y="412"/><use href="#p" x="325" y="412"/><use href="#q" x="317" y="395"/><use href="#p" x="295" y="407"/><use href="#q" x="308" y="408"/><use href="#p" x="304" y="414"/><use href="#q" x="341" y="385"/><use href="#p" x="347" y="387"/><use href="#q" x="356" y="385"/><use href="#p" x="365" y="387"/><use href="#q" x="344" y="392"/><use href="#p" x="351" y="393"/><use href="#q" x="361" y="394"/><use href="#p" x="358" y="396"/><use href="#q" x="340" y="390"/><use href="#p" x="345" y="398"/><use href="#q" x="365" y="394"/><use href="#p" x="346" y="402"/><use href="#p" x="296" y="395"/><use href="#p" x="301" y="397"/><use href="#p" x="308" y="397"/><use href="#p" x="311" y="398"/><use href="#p" x="320" y="393"/><use href="#p" x="320" y="396"/><use href="#p" x="327" y="396"/><use href="#p" x="313" y="401"/><use href="#p" x="310" y="406"/><use href="#p" x="318" y="407"/><use href="#p" x="296" y="410"/><use href="#p" x="305" y="410"/><use href="#p" x="315" y="409"/><use href="#p" x="326" y="410"/><use href="#p" x="302" y="412"/><use href="#p" x="296" y="414"/><use href="#p" x="317" y="415"/><use href="#p" x="305" y="414"/><use href="#p" x="293" y="411"/><use href="#p" x="360" y="377"/><use href="#p" x="364" y="383"/><use href="#p" x="336" y="383"/><use href="#p" x="335" y="385"/><use href="#p" x="336" y="392"/><use href="#p" x="368" y="394"/><use href="#p" x="334" y="398"/><use href="#p" x="366" y="397"/><use href="#p" x="347" y="401"/><use href="#p" x="363" y="400"/><use href="#p" x="342" y="395"/><use href="#p" x="345" y="394"/><use href="#p" x="343" y="401"/><use href="#p" x="382" y="394"/><use href="#p" x="383" y="395"/><use href="#p" x="390" y="399"/><use href="#p" x="399" y="397"/><use href="#p" x="402" y="405"/><use href="#p" x="382" y="413"/><use href="#p" x="395" y="412"/><use href="#p" x="297" y="391"/><use href="#p" x="297" y="397"/><use href="#p" x="304" y="397"/><use href="#p" x="308" y="394"/><use href="#p" x="312" y="395"/><use href="#p" x="316" y="393"/><use href="#p" x="324" y="395"/><use href="#p" x="326" y="400"/><use href="#p" x="318" y="403"/><use href="#p" x="326" y="405"/><use href="#p" x="300" y="406"/><use href="#p" x="305" y="406"/><use href="#p" x="314" y="405"/><use href="#p" x="323" y="409"/><use href="#p" x="298" y="411"/><use href="#p" x="309" y="410"/><use href="#p" x="319" y="411"/><use href="#p" x="294" y="417"/><use href="#p" x="313" y="415"/><use href="#p" x="321" y="414"/><use href="#p" x="324" y="415"/><use href="#p" x="308" y="417"/><use href="#p" x="298" y="420"/><use href="#p" x="302" y="420"/><use href="#p" x="311" y="420"/><use href="#p" x="321" y="421"/><use href="#p" x="342" y="362"/><use href="#p" x="346" y="362"/><use href="#p" x="356" y="368"/><use href="#p" x="344" y="374"/><use href="#p" x="337" y="377"/><use href="#p" x="348" y="379"/><use href="#p" x="355" y="381"/><use href="#p" x="361" y="379"/><use href="#p" x="338" y="384"/><use href="#p" x="345" y="383"/><use href="#p" x="351" y="386"/><use href="#p" x="361" y="386"/><use href="#p" x="342" y="389"/><use href="#p" x="348" y="391"/><use href="#p" x="353" y="389"/><use href="#p" x="357" y="388"/><use href="#p" x="357" y="392"/><use href="#p" x="361" y="390"/><use href="#p" x="366" y="390"/><use href="#p" x="339" y="395"/><use href="#p" x="353" y="395"/><use href="#p" x="337" y="398"/><use href="#p" x="348" y="398"/><use href="#p" x="355" y="399"/><use href="#p" x="361" y="397"/><use href="#p" x="368" y="402"/><use href="#p" x="346" y="412"/><use href="#p" x="349" y="404"/><use href="#p" x="385" y="397"/><use href="#p" x="394" y="399"/><use href="#p" x="398" y="395"/><use href="#p" x="403" y="396"/><use href="#p" x="406" y="395"/><use href="#p" x="401" y="400"/><use href="#p" x="398" y="402"/><use href="#p" x="404" y="402"/><use href="#p" x="390" y="404"/><use href="#p" x="406" y="406"/><use href="#p" x="379" y="406"/><use href="#p" x="387" y="409"/><use href="#p" x="383" y="411"/><use href="#p" x="377" y="413"/><use href="#p" x="395" y="410"/><use href="#p" x="404" y="412"/><use href="#p" x="408" y="411"/><use href="#p" x="400" y="415"/></g>
<path d="M344 386h1v1h-1zM344 387h1v1h-1zM345 389h1v1h-1zM350 389h1v1h-1zM354 392h1v1h-1zM363 392h1v1h-1zM348 394h1v1h-1zM348 395h2v1h-2zM350 396h1v1h-1zM396 397h1v1h-1zM397 399h1v1h-1zM366 400h1v1h-1zM298 408h1v1h-1zM312 408h1v1h-1zM312 409h1v1h-1zM307 412h1v1h-1zM308 413h1v1h-1zM308 414h2v1h-2zM310 415h1v1h-1zM311 417h1v1h-1z" fill="#0a3a66"/>
<rect x="286" y="424" width="132" height="1" fill="#6c6962"/>
<text x="309.3" y="448" text-anchor="middle">4</text>
<text x="350.3" y="448" text-anchor="middle">f</text>
<text x="391.3" y="448" text-anchor="middle">r</text>
<text x="276.2" y="412" text-anchor="end">20</text>
<text x="276.2" y="394" text-anchor="end">30</text>
<text x="276.2" y="376" text-anchor="end">40</text>
<text x="351" y="475" text-anchor="middle">drv</text>
<text transform="translate(247.5 392) rotate(-90)" text-anchor="middle">hwy</text>
<rect x="494" y="359" width="132" height="66" fill="#ebebeb"/>
<rect x="511" y="359" width="1" height="66" fill="#d9d9d9"/>
<rect x="548" y="359" width="1" height="66" fill="#d9d9d9"/>
<rect x="585" y="359" width="1" height="66" fill="#d9d9d9"/>
<rect x="622" y="359" width="1" height="66" fill="#d9d9d9"/>
<rect x="529" y="359" width="2" height="66" fill="#d9d9d9"/>
<rect x="566" y="359" width="2" height="66" fill="#d9d9d9"/>
<rect x="603" y="359" width="2" height="66" fill="#d9d9d9"/>
<g><use href="#q" x="516" y="407"/><use href="#p" x="521" y="413"/><use href="#q" x="527" y="409"/><use href="#p" x="514" y="414"/><use href="#q" x="522" y="406"/><use href="#p" x="556" y="390"/><use href="#q" x="550" y="390"/><use href="#p" x="554" y="395"/><use href="#q" x="547" y="395"/><use href="#p" x="565" y="392"/><use href="#q" x="568" y="397"/><use href="#p" x="548" y="410"/><use href="#q" x="573" y="387"/><use href="#p" x="554" y="391"/><use href="#q" x="565" y="385"/><use href="#p" x="568" y="388"/><use href="#p" x="561" y="392"/><use href="#p" x="545" y="385"/><use href="#p" x="518" y="366"/><use href="#p" x="532" y="373"/><use href="#p" x="537" y="363"/><use href="#p" x="544" y="389"/><use href="#p" x="543" y="395"/><use href="#p" x="548" y="388"/><use href="#p" x="548" y="395"/><use href="#p" x="502" y="407"/><use href="#p" x="511" y="404"/><use href="#p" x="514" y="405"/><use href="#p" x="519" y="409"/><use href="#p" x="530" y="410"/><use href="#p" x="527" y="413"/><use href="#p" x="509" y="414"/><use href="#p" x="519" y="420"/><use href="#p" x="514" y="419"/><use href="#p" x="525" y="420"/><use href="#p" x="531" y="414"/><use href="#p" x="516" y="411"/><use href="#p" x="547" y="405"/><use href="#p" x="549" y="364"/><use href="#p" x="555" y="386"/><use href="#p" x="560" y="384"/><use href="#p" x="562" y="384"/><use href="#p" x="583" y="386"/><use href="#p" x="545" y="390"/><use href="#p" x="547" y="388"/><use href="#p" x="558" y="388"/><use href="#p" x="565" y="389"/><use href="#p" x="557" y="393"/><use href="#p" x="542" y="395"/><use href="#p" x="564" y="396"/><use href="#p" x="568" y="395"/><use href="#p" x="559" y="400"/><use href="#p" x="566" y="399"/><use href="#p" x="547" y="404"/><use href="#p" x="551" y="405"/><use href="#p" x="552" y="410"/><use href="#p" x="556" y="412"/><use href="#p" x="553" y="417"/><use href="#p" x="548" y="417"/><use href="#p" x="555" y="414"/><use href="#p" x="514" y="368"/><use href="#p" x="522" y="367"/><use href="#p" x="518" y="371"/><use href="#p" x="512" y="378"/><use href="#p" x="519" y="378"/><use href="#p" x="523" y="378"/><use href="#p" x="530" y="370"/><use href="#p" x="529" y="376"/><use href="#p" x="534" y="375"/><use href="#p" x="536" y="366"/><use href="#p" x="541" y="365"/><use href="#p" x="546" y="366"/><use href="#p" x="544" y="371"/><use href="#p" x="542" y="376"/><use href="#p" x="518" y="389"/><use href="#p" x="533" y="385"/><use href="#p" x="538" y="385"/><use href="#p" x="537" y="391"/><use href="#p" x="536" y="399"/><use href="#p" x="540" y="399"/><use href="#p" x="500" y="404"/><use href="#p" x="501" y="414"/><use href="#p" x="502" y="419"/><use href="#p" x="507" y="410"/><use href="#p" x="512" y="409"/><use href="#p" x="520" y="404"/><use href="#p" x="525" y="405"/><use href="#p" x="529" y="407"/><use href="#p" x="524" y="410"/><use href="#p" x="511" y="416"/><use href="#p" x="518" y="415"/><use href="#p" x="523" y="417"/><use href="#p" x="530" y="417"/><use href="#p" x="538" y="406"/><use href="#p" x="538" y="413"/><use href="#p" x="553" y="364"/><use href="#p" x="549" y="376"/><use href="#p" x="553" y="375"/><use href="#p" x="552" y="379"/><use href="#p" x="551" y="386"/><use href="#p" x="562" y="387"/><use href="#p" x="572" y="385"/><use href="#p" x="579" y="384"/><use href="#p" x="586" y="387"/><use href="#p" x="589" y="384"/><use href="#p" x="541" y="388"/><use href="#p" x="575" y="390"/><use href="#p" x="544" y="392"/><use href="#p" x="551" y="394"/><use href="#p" x="572" y="394"/><use href="#p" x="593" y="392"/><use href="#p" x="588" y="394"/><use href="#p" x="585" y="395"/><use href="#p" x="560" y="396"/><use href="#p" x="541" y="399"/><use href="#p" x="545" y="399"/><use href="#p" x="551" y="399"/><use href="#p" x="555" y="398"/><use href="#p" x="571" y="398"/><use href="#p" x="543" y="406"/><use href="#p" x="548" y="407"/><use href="#p" x="557" y="408"/><use href="#p" x="542" y="412"/><use href="#p" x="546" y="415"/><use href="#p" x="551" y="414"/><use href="#p" x="560" y="418"/><use href="#p" x="608" y="385"/><use href="#p" x="618" y="384"/><use href="#p" x="619" y="392"/></g>
<path d="M520 369h1v1h-1zM553 388h1v1h-1zM547 392h2v1h-2zM557 396h1v1h-1zM510 411h1v1h-1zM511 412h2v1h-2zM524 413h1v1h-1zM548 413h1v1h-1zM524 414h1v1h-1zM525 415h1v1h-1zM526 416h2v1h-2zM516 417h1v1h-1zM520 417h1v1h-1zM526 417h2v1h-2zM517 418h1v1h-1zM527 418h1v1h-1z" fill="#0a3a66"/>
<rect x="494" y="359" width="1" height="66" fill="#6c6962"/>
<text x="530" y="448" text-anchor="middle">20</text>
<text x="567" y="448" text-anchor="middle">30</text>
<text x="604" y="448" text-anchor="middle">40</text>
<text x="486.2" y="418" text-anchor="end">4</text>
<text x="486.2" y="398" text-anchor="end">f</text>
<text x="486.2" y="378" text-anchor="end">r</text>
<text x="559" y="475" text-anchor="middle">hwy</text>
<text transform="translate(462 392) rotate(-90)" text-anchor="middle">drv</text>
<text x="19.3" y="511" textLength="59.7" lengthAdjust="spacing">refine_void</text>
<rect x="71" y="519" width="131" height="65" fill="#ebebeb"/>
<g><use href="#p" x="85" y="546"/><use href="#p" x="85" y="547"/><use href="#p" x="110" y="553"/><use href="#p" x="81" y="555"/><use href="#p" x="81" y="557"/><use href="#p" x="103" y="557"/><use href="#p" x="110" y="557"/><use href="#p" x="134" y="560"/><use href="#p" x="158" y="575"/><use href="#p" x="158" y="566"/><use href="#p" x="173" y="571"/><use href="#p" x="167" y="555"/><use href="#p" x="167" y="560"/><use href="#p" x="178" y="555"/><use href="#p" x="178" y="557"/><use href="#p" x="196" y="558"/><use href="#p" x="158" y="568"/><use href="#p" x="158" y="577"/><use href="#p" x="167" y="575"/><use href="#p" x="185" y="571"/><use href="#p" x="118" y="549"/><use href="#p" x="94" y="558"/><use href="#p" x="107" y="558"/><use href="#p" x="114" y="562"/><use href="#p" x="114" y="558"/><use href="#p" x="125" y="562"/><use href="#p" x="125" y="564"/><use href="#p" x="125" y="560"/><use href="#p" x="129" y="560"/><use href="#p" x="123" y="569"/><use href="#p" x="156" y="571"/><use href="#p" x="127" y="571"/><use href="#p" x="145" y="573"/><use href="#p" x="156" y="575"/><use href="#p" x="156" y="573"/><use href="#p" x="167" y="571"/><use href="#p" x="171" y="575"/><use href="#p" x="134" y="571"/><use href="#p" x="143" y="573"/><use href="#p" x="143" y="571"/><use href="#p" x="160" y="575"/><use href="#p" x="125" y="557"/><use href="#p" x="129" y="555"/><use href="#p" x="129" y="558"/><use href="#p" x="143" y="564"/><use href="#p" x="143" y="560"/><use href="#p" x="143" y="562"/><use href="#p" x="160" y="566"/><use href="#p" x="77" y="542"/><use href="#p" x="77" y="549"/><use href="#p" x="77" y="544"/><use href="#p" x="81" y="540"/><use href="#p" x="81" y="536"/><use href="#p" x="94" y="555"/><use href="#p" x="94" y="547"/><use href="#p" x="114" y="551"/><use href="#p" x="85" y="553"/><use href="#p" x="101" y="558"/><use href="#p" x="107" y="562"/><use href="#p" x="123" y="568"/><use href="#p" x="145" y="580"/><use href="#p" x="145" y="568"/><use href="#p" x="176" y="577"/><use href="#p" x="129" y="575"/><use href="#p" x="134" y="569"/><use href="#p" x="138" y="569"/><use href="#p" x="143" y="575"/><use href="#p" x="160" y="571"/><use href="#p" x="160" y="573"/><use href="#p" x="160" y="569"/><use href="#p" x="129" y="571"/><use href="#p" x="129" y="568"/><use href="#p" x="143" y="568"/><use href="#p" x="151" y="571"/><use href="#p" x="94" y="549"/><use href="#p" x="94" y="553"/><use href="#p" x="96" y="546"/><use href="#p" x="96" y="544"/><use href="#p" x="118" y="553"/><use href="#p" x="118" y="555"/><use href="#p" x="107" y="557"/><use href="#p" x="118" y="557"/><use href="#p" x="114" y="571"/><use href="#p" x="165" y="569"/><use href="#p" x="110" y="555"/><use href="#p" x="125" y="555"/><use href="#p" x="125" y="553"/><use href="#p" x="125" y="551"/><use href="#p" x="158" y="557"/><use href="#p" x="96" y="558"/><use href="#p" x="96" y="560"/><use href="#p" x="90" y="555"/><use href="#p" x="96" y="555"/><use href="#p" x="96" y="557"/><use href="#p" x="96" y="553"/><use href="#p" x="145" y="571"/><use href="#p" x="118" y="551"/><use href="#p" x="90" y="553"/><use href="#p" x="90" y="549"/><use href="#p" x="94" y="546"/><use href="#p" x="107" y="555"/><use href="#p" x="114" y="553"/><use href="#p" x="81" y="547"/><use href="#p" x="81" y="542"/><use href="#p" x="81" y="535"/><use href="#p" x="81" y="538"/><use href="#p" x="145" y="575"/><use href="#p" x="167" y="569"/><use href="#p" x="101" y="566"/><use href="#p" x="101" y="562"/><use href="#p" x="116" y="571"/><use href="#p" x="116" y="568"/><use href="#p" x="129" y="569"/><use href="#p" x="129" y="566"/><use href="#p" x="103" y="560"/><use href="#p" x="103" y="558"/><use href="#p" x="83" y="522"/><use href="#p" x="83" y="527"/><use href="#p" x="85" y="555"/><use href="#p" x="96" y="551"/><use href="#p" x="96" y="549"/><use href="#p" x="81" y="549"/><use href="#p" x="85" y="551"/><use href="#p" x="85" y="549"/><use href="#p" x="103" y="555"/><use href="#p" x="121" y="555"/></g>
<rect x="286" y="519" width="132" height="65" fill="#ebebeb"/>
<g><use href="#q" x="306" y="569"/><use href="#p" x="309" y="571"/><use href="#q" x="313" y="567"/><use href="#p" x="300" y="573"/><use href="#q" x="316" y="573"/><use href="#p" x="308" y="576"/><use href="#q" x="315" y="565"/><use href="#p" x="303" y="555"/><use href="#q" x="308" y="556"/><use href="#p" x="299" y="567"/><use href="#q" x="305" y="573"/><use href="#p" x="341" y="552"/><use href="#q" x="345" y="553"/><use href="#p" x="358" y="552"/><use href="#q" x="363" y="546"/><use href="#p" x="350" y="547"/><use href="#q" x="339" y="557"/><use href="#p" x="357" y="557"/><use href="#q" x="363" y="557"/><use href="#p" x="361" y="544"/><use href="#q" x="340" y="546"/><use href="#p" x="353" y="555"/><use href="#q" x="338" y="561"/><use href="#p" x="299" y="554"/><use href="#p" x="306" y="554"/><use href="#p" x="300" y="557"/><use href="#p" x="304" y="558"/><use href="#p" x="313" y="557"/><use href="#p" x="319" y="563"/><use href="#p" x="309" y="567"/><use href="#p" x="323" y="566"/><use href="#p" x="326" y="567"/><use href="#p" x="298" y="571"/><use href="#p" x="320" y="570"/><use href="#p" x="311" y="575"/><use href="#p" x="302" y="577"/><use href="#p" x="325" y="579"/><use href="#p" x="312" y="569"/><use href="#p" x="294" y="568"/><use href="#p" x="345" y="535"/><use href="#p" x="356" y="536"/><use href="#p" x="337" y="542"/><use href="#p" x="351" y="544"/><use href="#p" x="358" y="543"/><use href="#p" x="335" y="549"/><use href="#p" x="355" y="549"/><use href="#p" x="351" y="554"/><use href="#p" x="360" y="554"/><use href="#p" x="366" y="555"/><use href="#p" x="342" y="558"/><use href="#p" x="345" y="558"/><use href="#p" x="343" y="562"/><use href="#p" x="337" y="560"/><use href="#p" x="368" y="558"/><use href="#p" x="355" y="557"/><use href="#p" x="354" y="545"/><use href="#p" x="389" y="556"/><use href="#p" x="399" y="554"/><use href="#p" x="386" y="563"/><use href="#p" x="392" y="568"/><use href="#p" x="392" y="571"/><use href="#p" x="299" y="551"/><use href="#p" x="303" y="553"/><use href="#p" x="294" y="559"/><use href="#p" x="310" y="557"/><use href="#p" x="317" y="553"/><use href="#p" x="319" y="556"/><use href="#p" x="319" y="560"/><use href="#p" x="326" y="556"/><use href="#p" x="327" y="561"/><use href="#p" x="294" y="565"/><use href="#p" x="304" y="565"/><use href="#p" x="312" y="565"/><use href="#p" x="297" y="568"/><use href="#p" x="319" y="566"/><use href="#p" x="302" y="570"/><use href="#p" x="316" y="570"/><use href="#p" x="323" y="571"/><use href="#p" x="297" y="575"/><use href="#p" x="303" y="574"/><use href="#p" x="307" y="573"/><use href="#p" x="314" y="574"/><use href="#p" x="306" y="577"/><use href="#p" x="294" y="580"/><use href="#p" x="310" y="579"/><use href="#p" x="314" y="580"/><use href="#p" x="325" y="580"/><use href="#p" x="358" y="522"/><use href="#p" x="366" y="522"/><use href="#p" x="360" y="528"/><use href="#p" x="338" y="536"/><use href="#p" x="346" y="538"/><use href="#p" x="358" y="538"/><use href="#p" x="352" y="540"/><use href="#p" x="364" y="541"/><use href="#p" x="336" y="545"/><use href="#p" x="346" y="545"/><use href="#p" x="366" y="545"/><use href="#p" x="343" y="548"/><use href="#p" x="337" y="549"/><use href="#p" x="347" y="550"/><use href="#p" x="351" y="550"/><use href="#p" x="358" y="549"/><use href="#p" x="362" y="550"/><use href="#p" x="366" y="549"/><use href="#p" x="338" y="554"/><use href="#p" x="342" y="555"/><use href="#p" x="348" y="554"/><use href="#p" x="355" y="553"/><use href="#p" x="363" y="555"/><use href="#p" x="336" y="558"/><use href="#p" x="349" y="558"/><use href="#p" x="360" y="560"/><use href="#p" x="366" y="561"/><use href="#p" x="342" y="570"/><use href="#p" x="340" y="564"/><use href="#p" x="379" y="556"/><use href="#p" x="392" y="558"/><use href="#p" x="396" y="554"/><use href="#p" x="401" y="554"/><use href="#p" x="399" y="559"/><use href="#p" x="406" y="558"/><use href="#p" x="388" y="560"/><use href="#p" x="382" y="562"/><use href="#p" x="377" y="563"/><use href="#p" x="388" y="565"/><use href="#p" x="384" y="566"/><use href="#p" x="389" y="569"/><use href="#p" x="378" y="571"/><use href="#p" x="382" y="571"/><use href="#p" x="394" y="574"/><use href="#p" x="402" y="571"/><use href="#p" x="406" y="572"/></g>
<path d="M354 538h1v1h-1zM357 546h3v1h-3zM360 547h1v1h-1zM340 549h1v1h-1zM315 555h1v1h-1zM394 556h1v1h-1zM360 557h1v1h-1zM302 567h1v1h-1zM312 572h1v1h-1z" fill="#0a3a66"/>
<rect x="494" y="519" width="132" height="65" fill="#ebebeb"/>
<g><use href="#q" x="517" y="567"/><use href="#p" x="527" y="570"/><use href="#q" x="514" y="577"/><use href="#p" x="520" y="566"/><use href="#q" x="556" y="548"/><use href="#p" x="568" y="555"/><use href="#q" x="556" y="556"/><use href="#p" x="550" y="557"/><use href="#q" x="545" y="547"/><use href="#p" x="519" y="523"/><use href="#p" x="530" y="523"/><use href="#p" x="517" y="530"/><use href="#p" x="531" y="535"/><use href="#p" x="541" y="531"/><use href="#p" x="549" y="533"/><use href="#p" x="541" y="550"/><use href="#p" x="546" y="558"/><use href="#p" x="501" y="568"/><use href="#p" x="509" y="572"/><use href="#p" x="512" y="569"/><use href="#p" x="519" y="562"/><use href="#p" x="516" y="565"/><use href="#p" x="528" y="565"/><use href="#p" x="521" y="570"/><use href="#p" x="524" y="573"/><use href="#p" x="531" y="572"/><use href="#p" x="523" y="579"/><use href="#p" x="512" y="579"/><use href="#p" x="526" y="564"/><use href="#p" x="547" y="564"/><use href="#p" x="548" y="567"/><use href="#p" x="553" y="525"/><use href="#p" x="544" y="530"/><use href="#p" x="551" y="528"/><use href="#p" x="552" y="544"/><use href="#p" x="556" y="544"/><use href="#p" x="541" y="549"/><use href="#p" x="575" y="552"/><use href="#p" x="578" y="558"/><use href="#p" x="560" y="558"/><use href="#p" x="563" y="560"/><use href="#p" x="547" y="563"/><use href="#p" x="553" y="567"/><use href="#p" x="560" y="572"/><use href="#p" x="550" y="577"/><use href="#p" x="557" y="576"/><use href="#p" x="522" y="524"/><use href="#p" x="533" y="523"/><use href="#p" x="513" y="531"/><use href="#p" x="521" y="531"/><use href="#p" x="519" y="536"/><use href="#p" x="523" y="536"/><use href="#p" x="532" y="536"/><use href="#p" x="537" y="537"/><use href="#p" x="519" y="552"/><use href="#p" x="537" y="546"/><use href="#p" x="539" y="555"/><use href="#p" x="534" y="558"/><use href="#p" x="500" y="563"/><use href="#p" x="502" y="566"/><use href="#p" x="500" y="572"/><use href="#p" x="507" y="569"/><use href="#p" x="511" y="565"/><use href="#p" x="512" y="573"/><use href="#p" x="511" y="577"/><use href="#p" x="524" y="566"/><use href="#p" x="531" y="567"/><use href="#p" x="519" y="574"/><use href="#p" x="529" y="574"/><use href="#p" x="519" y="579"/><use href="#p" x="528" y="578"/><use href="#p" x="537" y="568"/><use href="#p" x="537" y="574"/><use href="#p" x="544" y="574"/><use href="#p" x="547" y="570"/><use href="#p" x="547" y="577"/><use href="#p" x="548" y="527"/><use href="#p" x="542" y="534"/><use href="#p" x="549" y="534"/><use href="#p" x="553" y="531"/><use href="#p" x="542" y="544"/><use href="#p" x="547" y="545"/><use href="#p" x="560" y="546"/><use href="#p" x="565" y="543"/><use href="#p" x="565" y="547"/><use href="#p" x="571" y="546"/><use href="#p" x="574" y="544"/><use href="#p" x="593" y="545"/><use href="#p" x="548" y="549"/><use href="#p" x="551" y="547"/><use href="#p" x="554" y="551"/><use href="#p" x="564" y="551"/><use href="#p" x="589" y="552"/><use href="#p" x="572" y="553"/><use href="#p" x="559" y="554"/><use href="#p" x="583" y="554"/><use href="#p" x="586" y="554"/><use href="#p" x="577" y="555"/><use href="#p" x="544" y="555"/><use href="#p" x="553" y="555"/><use href="#p" x="563" y="557"/><use href="#p" x="570" y="558"/><use href="#p" x="590" y="557"/><use href="#p" x="584" y="559"/><use href="#p" x="545" y="558"/><use href="#p" x="548" y="566"/><use href="#p" x="555" y="564"/><use href="#p" x="540" y="568"/><use href="#p" x="551" y="570"/><use href="#p" x="543" y="574"/><use href="#p" x="548" y="574"/><use href="#p" x="552" y="574"/><use href="#p" x="557" y="573"/><use href="#p" x="546" y="577"/><use href="#p" x="555" y="578"/><use href="#p" x="608" y="545"/><use href="#p" x="619" y="547"/><use href="#p" x="619" y="552"/></g>
<path d="M547 530h3v1h-3zM547 531h1v1h-1zM521 534h1v1h-1zM563 545h1v1h-1zM540 546h1v1h-1zM554 546h1v1h-1zM541 553h2v1h-2zM556 553h1v1h-1zM566 553h1v1h-1zM509 567h1v1h-1zM514 567h1v1h-1zM524 569h1v1h-1zM524 570h1v1h-1zM517 576h1v1h-1zM517 577h1v1h-1z" fill="#0a3a66"/>
<text x="19.3" y="622" textLength="65.8" lengthAdjust="spacing">refine_none</text>
<rect x="71" y="629" width="131" height="66" fill="#ebebeb"/>
<rect x="74" y="629" width="1" height="66" fill="#d9d9d9"/>
<rect x="96" y="629" width="1" height="66" fill="#d9d9d9"/>
<rect x="118" y="629" width="1" height="66" fill="#d9d9d9"/>
<rect x="140" y="629" width="1" height="66" fill="#d9d9d9"/>
<rect x="162" y="629" width="1" height="66" fill="#d9d9d9"/>
<rect x="185" y="629" width="1" height="66" fill="#d9d9d9"/>
<rect x="84" y="629" width="2" height="66" fill="#d9d9d9"/>
<rect x="106" y="629" width="2" height="66" fill="#d9d9d9"/>
<rect x="128" y="629" width="2" height="66" fill="#d9d9d9"/>
<rect x="150" y="629" width="2" height="66" fill="#d9d9d9"/>
<rect x="172" y="629" width="2" height="66" fill="#d9d9d9"/>
<rect x="195" y="629" width="2" height="66" fill="#d9d9d9"/>
<rect x="71" y="686" width="130" height="1" fill="#d9d9d9"/>
<rect x="71" y="667" width="130" height="1" fill="#d9d9d9"/>
<rect x="71" y="649" width="130" height="1" fill="#d9d9d9"/>
<rect x="71" y="631" width="130" height="1" fill="#d9d9d9"/>
<rect x="71" y="675" width="130" height="2" fill="#d9d9d9"/>
<rect x="71" y="657" width="130" height="2" fill="#d9d9d9"/>
<rect x="71" y="639" width="130" height="2" fill="#d9d9d9"/>
<g><use href="#p" x="85" y="656"/><use href="#p" x="85" y="658"/><use href="#p" x="110" y="664"/><use href="#p" x="81" y="665"/><use href="#p" x="81" y="667"/><use href="#p" x="103" y="667"/><use href="#p" x="110" y="667"/><use href="#p" x="134" y="671"/><use href="#p" x="158" y="686"/><use href="#p" x="158" y="676"/><use href="#p" x="173" y="682"/><use href="#p" x="167" y="665"/><use href="#p" x="167" y="671"/><use href="#p" x="178" y="665"/><use href="#p" x="178" y="667"/><use href="#p" x="196" y="669"/><use href="#p" x="158" y="678"/><use href="#p" x="158" y="687"/><use href="#p" x="167" y="686"/><use href="#p" x="185" y="682"/><use href="#p" x="118" y="660"/><use href="#p" x="94" y="669"/><use href="#p" x="107" y="669"/><use href="#p" x="114" y="673"/><use href="#p" x="114" y="669"/><use href="#p" x="125" y="673"/><use href="#p" x="125" y="675"/><use href="#p" x="125" y="671"/><use href="#p" x="129" y="671"/><use href="#p" x="123" y="680"/><use href="#p" x="156" y="682"/><use href="#p" x="127" y="682"/><use href="#p" x="145" y="684"/><use href="#p" x="156" y="686"/><use href="#p" x="156" y="684"/><use href="#p" x="167" y="682"/><use href="#p" x="171" y="686"/><use href="#p" x="134" y="682"/><use href="#p" x="143" y="684"/><use href="#p" x="143" y="682"/><use href="#p" x="160" y="686"/><use href="#p" x="125" y="667"/><use href="#p" x="129" y="665"/><use href="#p" x="129" y="669"/><use href="#p" x="143" y="675"/><use href="#p" x="143" y="671"/><use href="#p" x="143" y="673"/><use href="#p" x="160" y="676"/><use href="#p" x="77" y="653"/><use href="#p" x="77" y="660"/><use href="#p" x="77" y="654"/><use href="#p" x="81" y="651"/><use href="#p" x="81" y="647"/><use href="#p" x="94" y="665"/><use href="#p" x="94" y="658"/><use href="#p" x="114" y="662"/><use href="#p" x="85" y="664"/><use href="#p" x="101" y="669"/><use href="#p" x="107" y="673"/><use href="#p" x="123" y="678"/><use href="#p" x="145" y="691"/><use href="#p" x="145" y="678"/><use href="#p" x="176" y="687"/><use href="#p" x="129" y="686"/><use href="#p" x="134" y="680"/><use href="#p" x="138" y="680"/><use href="#p" x="143" y="686"/><use href="#p" x="160" y="682"/><use href="#p" x="160" y="684"/><use href="#p" x="160" y="680"/><use href="#p" x="129" y="682"/><use href="#p" x="129" y="678"/><use href="#p" x="143" y="678"/><use href="#p" x="151" y="682"/><use href="#p" x="94" y="660"/><use href="#p" x="94" y="664"/><use href="#p" x="96" y="656"/><use href="#p" x="96" y="654"/><use href="#p" x="118" y="664"/><use href="#p" x="118" y="665"/><use href="#p" x="107" y="667"/><use href="#p" x="118" y="667"/><use href="#p" x="114" y="682"/><use href="#p" x="165" y="680"/><use href="#p" x="110" y="665"/><use href="#p" x="125" y="665"/><use href="#p" x="125" y="664"/><use href="#p" x="125" y="662"/><use href="#p" x="158" y="667"/><use href="#p" x="96" y="669"/><use href="#p" x="96" y="671"/><use href="#p" x="90" y="665"/><use href="#p" x="96" y="665"/><use href="#p" x="96" y="667"/><use href="#p" x="96" y="664"/><use href="#p" x="145" y="682"/><use href="#p" x="118" y="662"/><use href="#p" x="90" y="664"/><use href="#p" x="90" y="660"/><use href="#p" x="94" y="656"/><use href="#p" x="107" y="665"/><use href="#p" x="114" y="664"/><use href="#p" x="81" y="658"/><use href="#p" x="81" y="653"/><use href="#p" x="81" y="645"/><use href="#p" x="81" y="649"/><use href="#p" x="145" y="686"/><use href="#p" x="167" y="680"/><use href="#p" x="101" y="676"/><use href="#p" x="101" y="673"/><use href="#p" x="116" y="682"/><use href="#p" x="116" y="678"/><use href="#p" x="129" y="680"/><use href="#p" x="129" y="676"/><use href="#p" x="103" y="671"/><use href="#p" x="103" y="669"/><use href="#p" x="83" y="632"/><use href="#p" x="83" y="638"/><use href="#p" x="85" y="665"/><use href="#p" x="96" y="662"/><use href="#p" x="96" y="660"/><use href="#p" x="81" y="660"/><use href="#p" x="85" y="662"/><use href="#p" x="85" y="660"/><use href="#p" x="103" y="665"/><use href="#p" x="121" y="665"/></g>
<rect x="71" y="694" width="131" height="1" fill="#6c6962"/>
<rect x="71" y="629" width="1" height="66" fill="#6c6962"/>
<rect x="85" y="695" width="1" height="3" fill="#6c6962"/>
<rect x="107" y="695" width="1" height="3" fill="#6c6962"/>
<rect x="129" y="695" width="1" height="3" fill="#6c6962"/>
<rect x="151" y="695" width="1" height="3" fill="#6c6962"/>
<rect x="173" y="695" width="1" height="3" fill="#6c6962"/>
<rect x="196" y="695" width="1" height="3" fill="#6c6962"/>
<rect x="66" y="676" width="5" height="1" fill="#6c6962"/>
<rect x="66" y="658" width="5" height="1" fill="#6c6962"/>
<rect x="66" y="640" width="5" height="1" fill="#6c6962"/>
<text x="84.3" y="718" text-anchor="middle">2</text>
<text x="106.3" y="718" text-anchor="middle">3</text>
<text x="128.3" y="718" text-anchor="middle">4</text>
<text x="150.3" y="718" text-anchor="middle">5</text>
<text x="172.3" y="718" text-anchor="middle">6</text>
<text x="195.3" y="718" text-anchor="middle">7</text>
<text x="61.2" y="683" text-anchor="end">20</text>
<text x="61.2" y="664" text-anchor="end">30</text>
<text x="61.2" y="646" text-anchor="end">40</text>
<text x="135.5" y="745" text-anchor="middle">displ</text>
<text transform="translate(32.5 662) rotate(-90)" text-anchor="middle">hwy</text>
<rect x="286" y="629" width="132" height="66" fill="#ebebeb"/>
<rect x="309" y="629" width="2" height="66" fill="#d9d9d9"/>
<rect x="350" y="629" width="2" height="66" fill="#d9d9d9"/>
<rect x="391" y="629" width="2" height="66" fill="#d9d9d9"/>
<rect x="286" y="685" width="131" height="1" fill="#d9d9d9"/>
<rect x="286" y="667" width="131" height="1" fill="#d9d9d9"/>
<rect x="286" y="649" width="131" height="1" fill="#d9d9d9"/>
<rect x="286" y="631" width="131" height="1" fill="#d9d9d9"/>
<rect x="286" y="675" width="131" height="2" fill="#d9d9d9"/>
<rect x="286" y="657" width="131" height="2" fill="#d9d9d9"/>
<rect x="286" y="639" width="131" height="2" fill="#d9d9d9"/>
<g><use href="#q" x="301" y="668"/><use href="#p" x="310" y="668"/><use href="#q" x="302" y="675"/><use href="#p" x="310" y="675"/><use href="#q" x="300" y="680"/><use href="#p" x="310" y="682"/><use href="#q" x="317" y="681"/><use href="#p" x="305" y="685"/><use href="#q" x="323" y="685"/><use href="#p" x="311" y="688"/><use href="#q" x="321" y="678"/><use href="#p" x="302" y="685"/><use href="#q" x="340" y="662"/><use href="#p" x="346" y="659"/><use href="#q" x="351" y="663"/><use href="#p" x="359" y="662"/><use href="#q" x="365" y="663"/><use href="#p" x="355" y="667"/><use href="#q" x="348" y="665"/><use href="#p" x="363" y="665"/><use href="#q" x="343" y="668"/><use href="#p" x="338" y="663"/><use href="#q" x="366" y="658"/><use href="#p" x="294" y="665"/><use href="#p" x="301" y="665"/><use href="#p" x="305" y="670"/><use href="#p" x="318" y="666"/><use href="#p" x="324" y="667"/><use href="#p" x="313" y="668"/><use href="#p" x="310" y="678"/><use href="#p" x="320" y="676"/><use href="#p" x="325" y="678"/><use href="#p" x="298" y="683"/><use href="#p" x="301" y="684"/><use href="#p" x="314" y="685"/><use href="#p" x="302" y="680"/><use href="#p" x="318" y="683"/><use href="#p" x="355" y="647"/><use href="#p" x="360" y="650"/><use href="#p" x="354" y="652"/><use href="#p" x="357" y="652"/><use href="#p" x="345" y="653"/><use href="#p" x="345" y="656"/><use href="#p" x="364" y="655"/><use href="#p" x="363" y="657"/><use href="#p" x="354" y="659"/><use href="#p" x="335" y="658"/><use href="#p" x="346" y="663"/><use href="#p" x="357" y="665"/><use href="#p" x="344" y="666"/><use href="#p" x="364" y="669"/><use href="#p" x="341" y="672"/><use href="#p" x="344" y="670"/><use href="#p" x="348" y="668"/><use href="#p" x="336" y="668"/><use href="#p" x="362" y="667"/><use href="#p" x="355" y="672"/><use href="#p" x="343" y="671"/><use href="#p" x="379" y="666"/><use href="#p" x="387" y="667"/><use href="#p" x="400" y="666"/><use href="#p" x="387" y="677"/><use href="#p" x="401" y="680"/><use href="#p" x="390" y="682"/><use href="#p" x="377" y="682"/><use href="#p" x="316" y="661"/><use href="#p" x="326" y="663"/><use href="#p" x="297" y="665"/><use href="#p" x="305" y="665"/><use href="#p" x="309" y="666"/><use href="#p" x="314" y="664"/><use href="#p" x="299" y="669"/><use href="#p" x="321" y="667"/><use href="#p" x="319" y="671"/><use href="#p" x="306" y="673"/><use href="#p" x="297" y="677"/><use href="#p" x="305" y="676"/><use href="#p" x="315" y="676"/><use href="#p" x="318" y="679"/><use href="#p" x="323" y="680"/><use href="#p" x="294" y="682"/><use href="#p" x="306" y="682"/><use href="#p" x="314" y="682"/><use href="#p" x="309" y="685"/><use href="#p" x="321" y="684"/><use href="#p" x="298" y="687"/><use href="#p" x="324" y="687"/><use href="#p" x="297" y="691"/><use href="#p" x="301" y="691"/><use href="#p" x="308" y="691"/><use href="#p" x="312" y="691"/><use href="#p" x="362" y="632"/><use href="#p" x="367" y="633"/><use href="#p" x="359" y="638"/><use href="#p" x="364" y="645"/><use href="#p" x="346" y="647"/><use href="#p" x="351" y="649"/><use href="#p" x="357" y="649"/><use href="#p" x="338" y="654"/><use href="#p" x="342" y="656"/><use href="#p" x="350" y="656"/><use href="#p" x="338" y="659"/><use href="#p" x="343" y="660"/><use href="#p" x="349" y="660"/><use href="#p" x="360" y="660"/><use href="#p" x="367" y="661"/><use href="#p" x="355" y="662"/><use href="#p" x="335" y="665"/><use href="#p" x="340" y="666"/><use href="#p" x="351" y="666"/><use href="#p" x="361" y="665"/><use href="#p" x="367" y="665"/><use href="#p" x="357" y="669"/><use href="#p" x="337" y="672"/><use href="#p" x="345" y="681"/><use href="#p" x="358" y="674"/><use href="#p" x="381" y="669"/><use href="#p" x="384" y="667"/><use href="#p" x="391" y="665"/><use href="#p" x="398" y="665"/><use href="#p" x="401" y="669"/><use href="#p" x="394" y="670"/><use href="#p" x="388" y="671"/><use href="#p" x="380" y="673"/><use href="#p" x="385" y="673"/><use href="#p" x="389" y="675"/><use href="#p" x="405" y="675"/><use href="#p" x="401" y="677"/><use href="#p" x="405" y="681"/><use href="#p" x="407" y="685"/><use href="#p" x="390" y="680"/><use href="#p" x="390" y="684"/><use href="#p" x="380" y="681"/></g>
<path d="M352 654h1v1h-1zM363 660h2v1h-2zM363 661h1v1h-1zM362 662h1v1h-1zM343 663h1v1h-1zM342 664h1v1h-1zM359 667h1v1h-1zM307 668h1v1h-1zM339 669h2v1h-2zM339 670h1v1h-1zM384 670h2v1h-2zM383 671h1v1h-1zM300 677h1v1h-1zM307 678h1v1h-1zM313 678h1v1h-1zM305 679h3v1h-3zM313 679h3v1h-3zM296 680h2v1h-2zM308 680h1v1h-1zM312 680h1v1h-1zM320 681h1v1h-1z" fill="#0a3a66"/>
<rect x="286" y="694" width="132" height="1" fill="#6c6962"/>
<rect x="286" y="629" width="1" height="66" fill="#6c6962"/>
<rect x="310" y="695" width="1" height="3" fill="#6c6962"/>
<rect x="351" y="695" width="1" height="3" fill="#6c6962"/>
<rect x="392" y="695" width="1" height="3" fill="#6c6962"/>
<rect x="281" y="676" width="5" height="1" fill="#6c6962"/>
<rect x="281" y="658" width="5" height="1" fill="#6c6962"/>
<rect x="281" y="640" width="5" height="1" fill="#6c6962"/>
<text x="309.3" y="718" text-anchor="middle">4</text>
<text x="350.3" y="718" text-anchor="middle">f</text>
<text x="391.3" y="718" text-anchor="middle">r</text>
<text x="276.2" y="682" text-anchor="end">20</text>
<text x="276.2" y="664" text-anchor="end">30</text>
<text x="276.2" y="646" text-anchor="end">40</text>
<text x="351" y="745" text-anchor="middle">drv</text>
<text transform="translate(247.5 662) rotate(-90)" text-anchor="middle">hwy</text>
<rect x="494" y="629" width="132" height="66" fill="#ebebeb"/>
<rect x="512" y="629" width="1" height="66" fill="#d9d9d9"/>
<rect x="549" y="629" width="1" height="66" fill="#d9d9d9"/>
<rect x="586" y="629" width="1" height="66" fill="#d9d9d9"/>
<rect x="623" y="629" width="1" height="66" fill="#d9d9d9"/>
<rect x="530" y="629" width="2" height="66" fill="#d9d9d9"/>
<rect x="566" y="629" width="2" height="66" fill="#d9d9d9"/>
<rect x="603" y="629" width="2" height="66" fill="#d9d9d9"/>
<rect x="494" y="681" width="131" height="2" fill="#d9d9d9"/>
<rect x="494" y="661" width="131" height="2" fill="#d9d9d9"/>
<rect x="494" y="641" width="131" height="2" fill="#d9d9d9"/>
<g><use href="#q" x="519" y="684"/><use href="#p" x="525" y="686"/><use href="#q" x="514" y="681"/><use href="#p" x="529" y="685"/><use href="#q" x="556" y="665"/><use href="#p" x="567" y="657"/><use href="#q" x="560" y="655"/><use href="#p" x="566" y="665"/><use href="#p" x="516" y="636"/><use href="#p" x="519" y="640"/><use href="#p" x="522" y="642"/><use href="#p" x="531" y="643"/><use href="#p" x="546" y="648"/><use href="#p" x="548" y="646"/><use href="#p" x="537" y="657"/><use href="#p" x="549" y="664"/><use href="#p" x="537" y="663"/><use href="#p" x="502" y="685"/><use href="#p" x="500" y="687"/><use href="#p" x="512" y="674"/><use href="#p" x="526" y="676"/><use href="#p" x="533" y="675"/><use href="#p" x="519" y="680"/><use href="#p" x="516" y="686"/><use href="#p" x="509" y="687"/><use href="#p" x="527" y="684"/><use href="#p" x="523" y="684"/><use href="#p" x="519" y="691"/><use href="#p" x="533" y="690"/><use href="#p" x="526" y="690"/><use href="#p" x="539" y="688"/><use href="#p" x="548" y="675"/><use href="#p" x="547" y="684"/><use href="#p" x="548" y="688"/><use href="#p" x="554" y="643"/><use href="#p" x="552" y="654"/><use href="#p" x="564" y="653"/><use href="#p" x="571" y="653"/><use href="#p" x="553" y="656"/><use href="#p" x="559" y="658"/><use href="#p" x="570" y="659"/><use href="#p" x="575" y="658"/><use href="#p" x="550" y="658"/><use href="#p" x="550" y="662"/><use href="#p" x="557" y="662"/><use href="#p" x="568" y="662"/><use href="#p" x="574" y="661"/><use href="#p" x="580" y="666"/><use href="#p" x="550" y="669"/><use href="#p" x="555" y="668"/><use href="#p" x="549" y="674"/><use href="#p" x="552" y="677"/><use href="#p" x="548" y="680"/><use href="#p" x="544" y="685"/><use href="#p" x="553" y="685"/><use href="#p" x="550" y="687"/><use href="#p" x="548" y="689"/><use href="#p" x="519" y="634"/><use href="#p" x="511" y="643"/><use href="#p" x="520" y="644"/><use href="#p" x="524" y="645"/><use href="#p" x="519" y="649"/><use href="#p" x="530" y="639"/><use href="#p" x="534" y="644"/><use href="#p" x="537" y="634"/><use href="#p" x="537" y="638"/><use href="#p" x="542" y="641"/><use href="#p" x="545" y="639"/><use href="#p" x="541" y="647"/><use href="#p" x="536" y="660"/><use href="#p" x="541" y="659"/><use href="#p" x="540" y="664"/><use href="#p" x="520" y="669"/><use href="#p" x="501" y="678"/><use href="#p" x="507" y="679"/><use href="#p" x="501" y="689"/><use href="#p" x="511" y="678"/><use href="#p" x="519" y="674"/><use href="#p" x="523" y="675"/><use href="#p" x="530" y="676"/><use href="#p" x="528" y="680"/><use href="#p" x="531" y="683"/><use href="#p" x="512" y="684"/><use href="#p" x="511" y="688"/><use href="#p" x="516" y="690"/><use href="#p" x="522" y="688"/><use href="#p" x="530" y="687"/><use href="#p" x="539" y="680"/><use href="#p" x="537" y="686"/><use href="#p" x="553" y="636"/><use href="#p" x="552" y="646"/><use href="#p" x="542" y="655"/><use href="#p" x="556" y="654"/><use href="#p" x="575" y="654"/><use href="#p" x="572" y="656"/><use href="#p" x="586" y="657"/><use href="#p" x="590" y="656"/><use href="#p" x="594" y="659"/><use href="#p" x="546" y="659"/><use href="#p" x="563" y="658"/><use href="#p" x="554" y="661"/><use href="#p" x="563" y="663"/><use href="#p" x="578" y="663"/><use href="#p" x="587" y="663"/><use href="#p" x="544" y="664"/><use href="#p" x="559" y="666"/><use href="#p" x="576" y="666"/><use href="#p" x="590" y="666"/><use href="#p" x="584" y="668"/><use href="#p" x="545" y="669"/><use href="#p" x="552" y="667"/><use href="#p" x="563" y="668"/><use href="#p" x="568" y="669"/><use href="#p" x="572" y="669"/><use href="#p" x="550" y="676"/><use href="#p" x="552" y="680"/><use href="#p" x="558" y="680"/><use href="#p" x="548" y="684"/><use href="#p" x="542" y="687"/><use href="#p" x="557" y="686"/><use href="#p" x="561" y="688"/><use href="#p" x="555" y="690"/><use href="#p" x="608" y="654"/><use href="#p" x="619" y="660"/><use href="#p" x="618" y="663"/></g>
<path d="M569 655h1v1h-1zM544 657h1v1h-1zM556 657h1v1h-1zM555 658h2v1h-2zM556 659h1v1h-1zM561 660h1v1h-1zM565 660h2v1h-2zM539 661h1v1h-1zM543 661h2v1h-2zM560 661h2v1h-2zM565 661h1v1h-1zM542 662h1v1h-1zM546 662h2v1h-2zM560 662h1v1h-1zM560 663h1v1h-1zM552 664h2v1h-2zM546 666h2v1h-2zM547 667h2v1h-2zM517 682h1v1h-1zM521 682h1v1h-1zM550 682h1v1h-1zM516 683h1v1h-1zM551 683h1v1h-1zM519 687h1v1h-1zM514 688h1v1h-1zM518 688h2v1h-2zM535 688h1v1h-1zM553 688h1v1h-1z" fill="#0a3a66"/>
<rect x="494" y="694" width="132" height="1" fill="#6c6962"/>
<rect x="494" y="629" width="1" height="66" fill="#6c6962"/>
<rect x="531" y="695" width="1" height="3" fill="#6c6962"/>
<rect x="567" y="695" width="1" height="3" fill="#6c6962"/>
<rect x="604" y="695" width="1" height="3" fill="#6c6962"/>
<rect x="489" y="682" width="5" height="1" fill="#6c6962"/>
<rect x="489" y="662" width="5" height="1" fill="#6c6962"/>
<rect x="489" y="642" width="5" height="1" fill="#6c6962"/>
<text x="531" y="718" text-anchor="middle">20</text>
<text x="567" y="718" text-anchor="middle">30</text>
<text x="604" y="718" text-anchor="middle">40</text>
<text x="485.4" y="688" text-anchor="end">4</text>
<text x="485.4" y="668" text-anchor="end">f</text>
<text x="485.4" y="648" text-anchor="end">r</text>
<text x="559" y="745" text-anchor="middle">hwy</text>
<text transform="translate(462 662) rotate(-90)" text-anchor="middle">drv</text>
</svg>
</body></html>
